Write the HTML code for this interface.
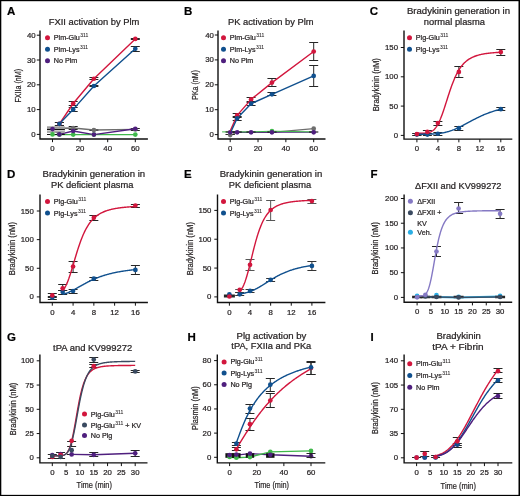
<!DOCTYPE html>
<html><head><meta charset="utf-8"><style>
html,body{margin:0;padding:0;background:#fff;width:520px;height:496px;overflow:hidden}
svg{display:block;will-change:transform;font-family:"Liberation Sans", sans-serif}
text{stroke:#231f20;stroke-width:0.22px;paint-order:stroke}
</style></head><body>
<svg width="520" height="496" viewBox="0 0 520 496">
<rect x="0" y="0" width="520" height="496" fill="#fff"/>
<text x="6.9" y="15.2" font-size="11.5" text-anchor="start" font-weight="bold" fill="#000">A</text>
<text x="94.08" y="25" font-size="8.6" text-anchor="middle" font-weight="normal" fill="#231f20" textLength="90.65" lengthAdjust="spacingAndGlyphs">FXII activation by Plm</text>
<path d="M40 30.6V139H147.9" fill="none" stroke="#111" stroke-width="1.4"/>
<line x1="36.8" y1="134.4" x2="40" y2="134.4" stroke="#111" stroke-width="1"/>
<text x="35.7" y="136.9" font-size="7.8" text-anchor="end" font-weight="normal" fill="#231f20">0</text>
<line x1="36.8" y1="109.6" x2="40" y2="109.6" stroke="#111" stroke-width="1"/>
<text x="35.7" y="112.1" font-size="7.8" text-anchor="end" font-weight="normal" fill="#231f20">10</text>
<line x1="36.8" y1="84.8" x2="40" y2="84.8" stroke="#111" stroke-width="1"/>
<text x="35.7" y="87.3" font-size="7.8" text-anchor="end" font-weight="normal" fill="#231f20">20</text>
<line x1="36.8" y1="60" x2="40" y2="60" stroke="#111" stroke-width="1"/>
<text x="35.7" y="62.5" font-size="7.8" text-anchor="end" font-weight="normal" fill="#231f20">30</text>
<line x1="36.8" y1="35.2" x2="40" y2="35.2" stroke="#111" stroke-width="1"/>
<text x="35.7" y="37.7" font-size="7.8" text-anchor="end" font-weight="normal" fill="#231f20">40</text>
<line x1="52.5" y1="139" x2="52.5" y2="142.2" stroke="#111" stroke-width="1"/>
<text x="52.5" y="151.2" font-size="7.8" text-anchor="middle" font-weight="normal" fill="#231f20">0</text>
<line x1="80.1" y1="139" x2="80.1" y2="142.2" stroke="#111" stroke-width="1"/>
<text x="80.1" y="151.2" font-size="7.8" text-anchor="middle" font-weight="normal" fill="#231f20">20</text>
<line x1="107.7" y1="139" x2="107.7" y2="142.2" stroke="#111" stroke-width="1"/>
<text x="107.7" y="151.2" font-size="7.8" text-anchor="middle" font-weight="normal" fill="#231f20">40</text>
<line x1="135.3" y1="139" x2="135.3" y2="142.2" stroke="#111" stroke-width="1"/>
<text x="135.3" y="151.2" font-size="7.8" text-anchor="middle" font-weight="normal" fill="#231f20">60</text>
<text transform="translate(21.1 85.8) rotate(-90)" x="0" y="0" font-size="9.3" text-anchor="middle" fill="#231f20" textLength="33.6" lengthAdjust="spacingAndGlyphs">FXIIa (nM)</text>
<circle cx="47.5" cy="37.7" r="2.5" fill="#d2163d"/>
<text x="53.8" y="40.1" font-size="7.2" fill="#231f20">Plm-Glu<tspan font-size="5" dx="0.5" dy="-2.9" style="stroke-width:0.08px">311</tspan></text>
<circle cx="47.5" cy="49.2" r="2.5" fill="#10508e"/>
<text x="53.8" y="51.6" font-size="7.2" fill="#231f20">Plm-Lys<tspan font-size="5" dx="0.5" dy="-2.9" style="stroke-width:0.08px">311</tspan></text>
<circle cx="47.5" cy="60.8" r="2.5" fill="#4f1f7e"/>
<text x="53.8" y="63.2" font-size="7.2" fill="#231f20">No Plm</text>
<path d="M68.7 126.5H77.7M68.7 129.5H77.7M73.2 126.5V129.5" fill="none" stroke="#222" stroke-width="1"/>
<path d="M89.4 129.5H98.4M89.4 130.5H98.4M93.9 129.5V130.5" fill="none" stroke="#222" stroke-width="1"/>
<path d="M130.8 128.5H139.8M130.8 130.5H139.8M135.3 128.5V130.5" fill="none" stroke="#222" stroke-width="1"/>
<path d="M52.5 127.4 L59.4 128.2 L73.2 128 L93.9 130 L135.3 129.4" fill="none" stroke="#6e6e6e" stroke-width="1.4" stroke-linejoin="round"/>
<circle cx="73.2" cy="128" r="2.35" fill="#6e6e6e"/>
<circle cx="93.9" cy="130" r="2.35" fill="#6e6e6e"/>
<circle cx="135.3" cy="129.4" r="2.35" fill="#6e6e6e"/>
<path d="M52.5 134.6 L59.4 134.6 L73.2 134.6 L93.9 134.6 L135.3 134.6" fill="none" stroke="#3fb84a" stroke-width="1.4" stroke-linejoin="round"/>
<path d="M52.5 129.1 L59.4 134.4 L73.2 131 L93.9 134.6 L135.3 128.75" fill="none" stroke="#4f1f7e" stroke-width="1.4" stroke-linejoin="round"/>
<rect x="47" y="126.3" width="17.8" height="6.5" fill="#9c9c9c"/>
<rect x="47" y="130" width="17.8" height="1.3" fill="#cfcfcf"/>
<path d="M47 129.5H64.8M47 134.5H64.8" stroke="#111" stroke-width="1.1"/>
<circle cx="59.4" cy="134.6" r="2.35" fill="#3fb84a"/>
<circle cx="73.2" cy="134.6" r="2.35" fill="#3fb84a"/>
<circle cx="93.9" cy="134.6" r="2.35" fill="#3fb84a"/>
<circle cx="135.3" cy="134.6" r="2.35" fill="#3fb84a"/>
<circle cx="52.5" cy="134.4" r="2.35" fill="#3fb84a"/>
<circle cx="52.5" cy="129.1" r="2.35" fill="#4f1f7e"/>
<circle cx="59.4" cy="134.4" r="2.35" fill="#4f1f7e"/>
<circle cx="73.2" cy="131" r="2.35" fill="#4f1f7e"/>
<circle cx="93.9" cy="134.6" r="2.35" fill="#4f1f7e"/>
<circle cx="135.3" cy="128.75" r="2.35" fill="#4f1f7e"/>
<path d="M68.7 101.5H77.7M68.7 105.5H77.7M73.2 101.5V105.5" fill="none" stroke="#262626" stroke-width="1"/>
<path d="M89.4 77.5H98.4M89.4 79.5H98.4M93.9 77.5V79.5" fill="none" stroke="#262626" stroke-width="1"/>
<path d="M130.8 38.5H139.8M130.8 39.5H139.8M135.3 38.5V39.5" fill="none" stroke="#262626" stroke-width="1"/>
<path d="M54.9 122.5H63.9M54.9 125.5H63.9M59.4 122.5V125.5" fill="none" stroke="#262626" stroke-width="1"/>
<path d="M68.7 107.5H77.7M68.7 111.5H77.7M73.2 107.5V111.5" fill="none" stroke="#262626" stroke-width="1"/>
<path d="M89.4 85.5H98.4M89.4 86.5H98.4M93.9 85.5V86.5" fill="none" stroke="#262626" stroke-width="1"/>
<path d="M130.8 46.5H139.8M130.8 51.5H139.8M135.3 46.5V51.5" fill="none" stroke="#262626" stroke-width="1"/>
<path d="M54.9 122.5H63.9M54.9 125.5H63.9M59.4 122.5V125.5" fill="none" stroke="#262626" stroke-width="1"/>
<path d="M59.4 123.8 L73.2 103.5 L93.9 78.75 L135.3 38.9" fill="none" stroke="#d2163d" stroke-width="1.4" stroke-linejoin="round"/>
<path d="M59.4 123.8 L73.2 109.4 L93.9 86 L135.3 48.75" fill="none" stroke="#10508e" stroke-width="1.4" stroke-linejoin="round"/>
<circle cx="59.4" cy="123.8" r="2.35" fill="#d2163d"/>
<circle cx="73.2" cy="103.5" r="2.35" fill="#d2163d"/>
<circle cx="93.9" cy="78.75" r="2.35" fill="#d2163d"/>
<circle cx="135.3" cy="38.9" r="2.35" fill="#d2163d"/>
<circle cx="59.4" cy="123.8" r="2.35" fill="#10508e"/>
<circle cx="73.2" cy="109.4" r="2.35" fill="#10508e"/>
<circle cx="93.9" cy="86" r="2.35" fill="#10508e"/>
<circle cx="135.3" cy="48.75" r="2.35" fill="#10508e"/>
<text x="183.9" y="15.2" font-size="11.5" text-anchor="start" font-weight="bold" fill="#000">B</text>
<text x="270.75" y="25.2" font-size="8.6" text-anchor="middle" font-weight="normal" fill="#231f20" textLength="85.5" lengthAdjust="spacingAndGlyphs">PK activation by Plm</text>
<path d="M218 30.6V139H325.5" fill="none" stroke="#111" stroke-width="1.4"/>
<line x1="214.8" y1="134.6" x2="218" y2="134.6" stroke="#111" stroke-width="1"/>
<text x="213.9" y="137.1" font-size="7.8" text-anchor="end" font-weight="normal" fill="#231f20">0</text>
<line x1="214.8" y1="109.7" x2="218" y2="109.7" stroke="#111" stroke-width="1"/>
<text x="213.9" y="112.2" font-size="7.8" text-anchor="end" font-weight="normal" fill="#231f20">10</text>
<line x1="214.8" y1="84.8" x2="218" y2="84.8" stroke="#111" stroke-width="1"/>
<text x="213.9" y="87.3" font-size="7.8" text-anchor="end" font-weight="normal" fill="#231f20">20</text>
<line x1="214.8" y1="59.9" x2="218" y2="59.9" stroke="#111" stroke-width="1"/>
<text x="213.9" y="62.4" font-size="7.8" text-anchor="end" font-weight="normal" fill="#231f20">30</text>
<line x1="214.8" y1="35" x2="218" y2="35" stroke="#111" stroke-width="1"/>
<text x="213.9" y="37.5" font-size="7.8" text-anchor="end" font-weight="normal" fill="#231f20">40</text>
<line x1="230.2" y1="139" x2="230.2" y2="142.2" stroke="#111" stroke-width="1"/>
<text x="230.2" y="151.2" font-size="7.8" text-anchor="middle" font-weight="normal" fill="#231f20">0</text>
<line x1="258.03" y1="139" x2="258.03" y2="142.2" stroke="#111" stroke-width="1"/>
<text x="258.03" y="151.2" font-size="7.8" text-anchor="middle" font-weight="normal" fill="#231f20">20</text>
<line x1="285.87" y1="139" x2="285.87" y2="142.2" stroke="#111" stroke-width="1"/>
<text x="285.87" y="151.2" font-size="7.8" text-anchor="middle" font-weight="normal" fill="#231f20">40</text>
<line x1="313.7" y1="139" x2="313.7" y2="142.2" stroke="#111" stroke-width="1"/>
<text x="313.7" y="151.2" font-size="7.8" text-anchor="middle" font-weight="normal" fill="#231f20">60</text>
<text transform="translate(197.8 85) rotate(-90)" x="0" y="0" font-size="9.3" text-anchor="middle" fill="#231f20" textLength="29.6" lengthAdjust="spacingAndGlyphs">PKa (nM)</text>
<circle cx="223.5" cy="37.7" r="2.5" fill="#d2163d"/>
<text x="229.8" y="40.1" font-size="7.2" fill="#231f20">Plm-Glu<tspan font-size="5" dx="0.5" dy="-2.9" style="stroke-width:0.08px">311</tspan></text>
<circle cx="223.5" cy="49.2" r="2.5" fill="#10508e"/>
<text x="229.8" y="51.6" font-size="7.2" fill="#231f20">Plm-Lys<tspan font-size="5" dx="0.5" dy="-2.9" style="stroke-width:0.08px">311</tspan></text>
<circle cx="223.5" cy="60.8" r="2.5" fill="#4f1f7e"/>
<text x="229.8" y="63.2" font-size="7.2" fill="#231f20">No Plm</text>
<path d="M230.2 135.3 L237.16 132.3 L251.07 132.3 L271.95 132.3 L313.7 128.7" fill="none" stroke="#6e6e6e" stroke-width="1.2" stroke-linejoin="round"/>
<path d="M225.7 134.5H234.7M225.7 134.5H234.7M230.2 134.5V134.5" fill="none" stroke="#262626" stroke-width="1"/>
<circle cx="230.2" cy="135.1" r="2.35" fill="#6e6e6e"/>
<circle cx="313.7" cy="128.7" r="2.35" fill="#6e6e6e"/>
<path d="M230.2 132.3 L237.16 132.3 L251.07 132.3 L271.95 132.3 L313.7 132.3" fill="none" stroke="#4f1f7e" stroke-width="1.1" stroke-linejoin="round"/>
<path d="M222.1 131.9 L230.2 131.9 L237.16 131.9 L251.07 131.9 L271.95 131.2 L313.7 131.9" fill="none" stroke="#3fb84a" stroke-width="1.0" stroke-linejoin="round"/>
<path d="M225.6 132H234.8" stroke="#111" stroke-width="1.1"/>
<path d="M232.56 132H241.76" stroke="#111" stroke-width="1.1"/>
<path d="M246.47 132H255.67" stroke="#111" stroke-width="1.1"/>
<path d="M267.35 132H276.55" stroke="#111" stroke-width="1.1"/>
<path d="M309.1 132H318.3" stroke="#111" stroke-width="1.1"/>
<circle cx="271.95" cy="131.2" r="2.35" fill="#3fb84a"/>
<circle cx="230.2" cy="132.3" r="2.35" fill="#4f1f7e"/>
<circle cx="237.16" cy="132.3" r="2.35" fill="#4f1f7e"/>
<circle cx="251.07" cy="132.3" r="2.35" fill="#4f1f7e"/>
<circle cx="271.95" cy="132.3" r="2.35" fill="#4f1f7e"/>
<circle cx="313.7" cy="132.3" r="2.35" fill="#4f1f7e"/>
<path d="M232.66 113.5H241.66M232.66 117.5H241.66M237.16 113.5V117.5" fill="none" stroke="#262626" stroke-width="1"/>
<path d="M246.57 97.5H255.57M246.57 101.5H255.57M251.07 97.5V101.5" fill="none" stroke="#262626" stroke-width="1"/>
<path d="M267.45 78.5H276.45M267.45 86.5H276.45M271.95 78.5V86.5" fill="none" stroke="#262626" stroke-width="1"/>
<path d="M309.2 42.5H318.2M309.2 60.5H318.2M313.7 42.5V60.5" fill="none" stroke="#262626" stroke-width="1"/>
<path d="M232.66 116.5H241.66M232.66 120.5H241.66M237.16 116.5V120.5" fill="none" stroke="#262626" stroke-width="1"/>
<path d="M246.57 102.5H255.57M246.57 105.5H255.57M251.07 102.5V105.5" fill="none" stroke="#262626" stroke-width="1"/>
<path d="M267.45 92.5H276.45M267.45 95.5H276.45M271.95 92.5V95.5" fill="none" stroke="#262626" stroke-width="1"/>
<path d="M309.2 65.5H318.2M309.2 86.5H318.2M313.7 65.5V86.5" fill="none" stroke="#262626" stroke-width="1"/>
<path d="M230.2 131 L237.16 115.4 L251.07 99.4 L271.95 82.6 L313.7 51.5" fill="none" stroke="#d2163d" stroke-width="1.4" stroke-linejoin="round"/>
<path d="M231.3 131 L237.16 118.3 L251.07 103.7 L271.95 94.3 L313.7 75.9" fill="none" stroke="#10508e" stroke-width="1.4" stroke-linejoin="round"/>
<circle cx="237.16" cy="115.4" r="2.35" fill="#d2163d"/>
<circle cx="251.07" cy="99.4" r="2.35" fill="#d2163d"/>
<circle cx="271.95" cy="82.6" r="2.35" fill="#d2163d"/>
<circle cx="313.7" cy="51.5" r="2.35" fill="#d2163d"/>
<circle cx="237.16" cy="118.3" r="2.35" fill="#10508e"/>
<circle cx="251.07" cy="103.7" r="2.35" fill="#10508e"/>
<circle cx="271.95" cy="94.3" r="2.35" fill="#10508e"/>
<circle cx="313.7" cy="75.9" r="2.35" fill="#10508e"/>
<text x="369.8" y="15.2" font-size="11.5" text-anchor="start" font-weight="bold" fill="#000">C</text>
<text x="458.45" y="13.75" font-size="8.6" text-anchor="middle" font-weight="normal" fill="#231f20" textLength="103.1" lengthAdjust="spacingAndGlyphs">Bradykinin generation in</text>
<text x="454.38" y="25" font-size="8.6" text-anchor="middle" font-weight="normal" fill="#231f20" textLength="61.25" lengthAdjust="spacingAndGlyphs">normal plasma</text>
<path d="M404 30.6V139.1H512.3" fill="none" stroke="#111" stroke-width="1.4"/>
<line x1="400.8" y1="135.4" x2="404" y2="135.4" stroke="#111" stroke-width="1"/>
<text x="398" y="137.9" font-size="7.8" text-anchor="end" font-weight="normal" fill="#231f20">0</text>
<line x1="400.8" y1="106.1" x2="404" y2="106.1" stroke="#111" stroke-width="1"/>
<text x="398" y="108.6" font-size="7.8" text-anchor="end" font-weight="normal" fill="#231f20">50</text>
<line x1="400.8" y1="76.8" x2="404" y2="76.8" stroke="#111" stroke-width="1"/>
<text x="398" y="79.3" font-size="7.8" text-anchor="end" font-weight="normal" fill="#231f20">100</text>
<line x1="400.8" y1="47.5" x2="404" y2="47.5" stroke="#111" stroke-width="1"/>
<text x="398" y="50" font-size="7.8" text-anchor="end" font-weight="normal" fill="#231f20">150</text>
<line x1="416.9" y1="139.1" x2="416.9" y2="142.3" stroke="#111" stroke-width="1"/>
<text x="416.9" y="151.3" font-size="7.8" text-anchor="middle" font-weight="normal" fill="#231f20">0</text>
<line x1="437.88" y1="139.1" x2="437.88" y2="142.3" stroke="#111" stroke-width="1"/>
<text x="437.88" y="151.3" font-size="7.8" text-anchor="middle" font-weight="normal" fill="#231f20">4</text>
<line x1="458.85" y1="139.1" x2="458.85" y2="142.3" stroke="#111" stroke-width="1"/>
<text x="458.85" y="151.3" font-size="7.8" text-anchor="middle" font-weight="normal" fill="#231f20">8</text>
<line x1="479.82" y1="139.1" x2="479.82" y2="142.3" stroke="#111" stroke-width="1"/>
<text x="479.82" y="151.3" font-size="7.8" text-anchor="middle" font-weight="normal" fill="#231f20">12</text>
<line x1="500.8" y1="139.1" x2="500.8" y2="142.3" stroke="#111" stroke-width="1"/>
<text x="500.8" y="151.3" font-size="7.8" text-anchor="middle" font-weight="normal" fill="#231f20">16</text>
<text transform="translate(378.5 84.65) rotate(-90)" x="0" y="0" font-size="9.3" text-anchor="middle" fill="#231f20" textLength="53.1" lengthAdjust="spacingAndGlyphs">Bradykinin (nM)</text>
<circle cx="409.5" cy="37.7" r="2.5" fill="#d2163d"/>
<text x="415.8" y="40.1" font-size="7.2" fill="#231f20">Plg-Glu<tspan font-size="5" dx="0.5" dy="-2.9" style="stroke-width:0.08px">311</tspan></text>
<circle cx="409.5" cy="49.2" r="2.5" fill="#10508e"/>
<text x="415.8" y="51.6" font-size="7.2" fill="#231f20">Plg-Lys<tspan font-size="5" dx="0.5" dy="-2.9" style="stroke-width:0.08px">311</tspan></text>
<path d="M412.4 133.5H421.4M412.4 135.5H421.4M416.9 133.5V135.5" fill="none" stroke="#262626" stroke-width="1"/>
<path d="M422.89 130.5H431.89M422.89 133.5H431.89M427.39 130.5V133.5" fill="none" stroke="#262626" stroke-width="1"/>
<path d="M433.38 121.5H442.38M433.38 125.5H442.38M437.88 121.5V125.5" fill="none" stroke="#262626" stroke-width="1"/>
<path d="M454.35 66.5H463.35M454.35 77.5H463.35M458.85 66.5V77.5" fill="none" stroke="#262626" stroke-width="1"/>
<path d="M496.3 49.5H505.3M496.3 55.5H505.3M500.8 49.5V55.5" fill="none" stroke="#262626" stroke-width="1"/>
<path d="M412.4 133.5H421.4M412.4 135.5H421.4M416.9 133.5V135.5" fill="none" stroke="#262626" stroke-width="1"/>
<path d="M422.89 133.5H431.89M422.89 135.5H431.89M427.39 133.5V135.5" fill="none" stroke="#262626" stroke-width="1"/>
<path d="M433.38 132.5H442.38M433.38 135.5H442.38M437.88 132.5V135.5" fill="none" stroke="#262626" stroke-width="1"/>
<path d="M454.35 126.5H463.35M454.35 130.5H463.35M458.85 126.5V130.5" fill="none" stroke="#262626" stroke-width="1"/>
<path d="M496.3 107.5H505.3M496.3 110.5H505.3M500.8 107.5V110.5" fill="none" stroke="#262626" stroke-width="1"/>
<path d="M416.9 133.22 L417.6 133.22 L418.3 133.22 L419 133.22 L419.7 133.22 L420.4 133.22 L421.09 133.22 L421.79 133.22 L422.49 133.21 L423.19 133.19 L423.89 133.17 L424.59 133.14 L425.29 133.1 L425.99 133.04 L426.69 132.96 L427.39 132.86 L428.09 132.73 L428.79 132.57 L429.48 132.37 L430.18 132.12 L430.88 131.81 L431.58 131.45 L432.28 131.02 L432.98 130.51 L433.68 129.92 L434.38 129.24 L435.08 128.47 L435.78 127.59 L436.48 126.61 L437.18 125.51 L437.88 124.3 L438.57 122.97 L439.27 121.53 L439.97 119.97 L440.67 118.31 L441.37 116.54 L442.07 114.68 L442.77 112.73 L443.47 110.71 L444.17 108.62 L444.87 106.49 L445.57 104.32 L446.26 102.12 L446.96 99.92 L447.66 97.73 L448.36 95.56 L449.06 93.41 L449.76 91.3 L450.46 89.25 L451.16 87.25 L451.86 85.31 L452.56 83.45 L453.26 81.66 L453.96 79.94 L454.65 78.3 L455.35 76.74 L456.05 75.26 L456.75 73.85 L457.45 72.52 L458.15 71.26 L458.85 70.08 L459.55 68.96 L460.25 67.91 L460.95 66.93 L461.65 66 L462.35 65.13 L463.05 64.32 L463.74 63.56 L464.44 62.84 L465.14 62.17 L465.84 61.54 L466.54 60.96 L467.24 60.41 L467.94 59.89 L468.64 59.41 L469.34 58.96 L470.04 58.53 L470.74 58.14 L471.44 57.77 L472.13 57.42 L472.83 57.09 L473.53 56.78 L474.23 56.5 L474.93 56.23 L475.63 55.97 L476.33 55.74 L477.03 55.51 L477.73 55.3 L478.43 55.1 L479.13 54.92 L479.82 54.74 L480.52 54.58 L481.22 54.42 L481.92 54.28 L482.62 54.14 L483.32 54.01 L484.02 53.89 L484.72 53.77 L485.42 53.66 L486.12 53.56 L486.82 53.46 L487.52 53.37 L488.22 53.28 L488.91 53.19 L489.61 53.12 L490.31 53.04 L491.01 52.97 L491.71 52.9 L492.41 52.84 L493.11 52.78 L493.81 52.72 L494.51 52.67 L495.21 52.62 L495.91 52.57 L496.61 52.52 L497.3 52.47 L498 52.43 L498.7 52.39 L499.4 52.35 L500.1 52.32 L500.8 52.28" fill="none" stroke="#d2163d" stroke-width="1.4" stroke-linejoin="round"/>
<path d="M416.9 134.22 L417.6 134.22 L418.3 134.22 L419 134.22 L419.7 134.22 L420.4 134.22 L421.09 134.22 L421.79 134.22 L422.49 134.22 L423.19 134.22 L423.89 134.21 L424.59 134.21 L425.29 134.2 L425.99 134.2 L426.69 134.19 L427.39 134.18 L428.09 134.16 L428.79 134.15 L429.48 134.13 L430.18 134.11 L430.88 134.08 L431.58 134.06 L432.28 134.03 L432.98 133.99 L433.68 133.95 L434.38 133.9 L435.08 133.86 L435.78 133.8 L436.48 133.74 L437.18 133.67 L437.88 133.6 L438.57 133.52 L439.27 133.43 L439.97 133.34 L440.67 133.24 L441.37 133.13 L442.07 133.01 L442.77 132.88 L443.47 132.75 L444.17 132.6 L444.87 132.45 L445.57 132.29 L446.26 132.12 L446.96 131.94 L447.66 131.75 L448.36 131.55 L449.06 131.34 L449.76 131.12 L450.46 130.89 L451.16 130.65 L451.86 130.41 L452.56 130.15 L453.26 129.88 L453.96 129.61 L454.65 129.32 L455.35 129.03 L456.05 128.73 L456.75 128.42 L457.45 128.1 L458.15 127.78 L458.85 127.45 L459.55 127.11 L460.25 126.77 L460.95 126.42 L461.65 126.07 L462.35 125.71 L463.05 125.35 L463.74 124.98 L464.44 124.61 L465.14 124.24 L465.84 123.86 L466.54 123.49 L467.24 123.11 L467.94 122.73 L468.64 122.35 L469.34 121.98 L470.04 121.6 L470.74 121.22 L471.44 120.85 L472.13 120.47 L472.83 120.1 L473.53 119.73 L474.23 119.37 L474.93 119.01 L475.63 118.65 L476.33 118.3 L477.03 117.95 L477.73 117.6 L478.43 117.26 L479.13 116.92 L479.82 116.59 L480.52 116.26 L481.22 115.94 L481.92 115.63 L482.62 115.32 L483.32 115.01 L484.02 114.71 L484.72 114.42 L485.42 114.13 L486.12 113.85 L486.82 113.57 L487.52 113.3 L488.22 113.04 L488.91 112.78 L489.61 112.53 L490.31 112.28 L491.01 112.04 L491.71 111.8 L492.41 111.57 L493.11 111.34 L493.81 111.12 L494.51 110.91 L495.21 110.7 L495.91 110.49 L496.61 110.3 L497.3 110.1 L498 109.91 L498.7 109.73 L499.4 109.55 L500.1 109.37 L500.8 109.2" fill="none" stroke="#10508e" stroke-width="1.4" stroke-linejoin="round"/>
<circle cx="416.9" cy="134.6" r="2.35" fill="#10508e"/>
<circle cx="427.39" cy="134.6" r="2.35" fill="#10508e"/>
<circle cx="437.88" cy="133.75" r="2.35" fill="#10508e"/>
<circle cx="458.85" cy="128.2" r="2.35" fill="#10508e"/>
<circle cx="500.8" cy="109.2" r="2.35" fill="#10508e"/>
<circle cx="416.9" cy="134.1" r="2.35" fill="#d2163d"/>
<circle cx="427.39" cy="131.9" r="2.35" fill="#d2163d"/>
<circle cx="437.88" cy="123.1" r="2.35" fill="#d2163d"/>
<circle cx="458.85" cy="71.9" r="2.35" fill="#d2163d"/>
<circle cx="500.8" cy="52.1" r="2.35" fill="#d2163d"/>
<text x="6.9" y="178.4" font-size="11.5" text-anchor="start" font-weight="bold" fill="#000">D</text>
<text x="93.8" y="176.6" font-size="8.6" text-anchor="middle" font-weight="normal" fill="#231f20" textLength="102.6" lengthAdjust="spacingAndGlyphs">Bradykinin generation in</text>
<text x="92.25" y="187.8" font-size="8.6" text-anchor="middle" font-weight="normal" fill="#231f20" textLength="82.5" lengthAdjust="spacingAndGlyphs">PK deficient plasma</text>
<path d="M40 194.4V302.5H147.9" fill="none" stroke="#111" stroke-width="1.4"/>
<line x1="36.8" y1="296.9" x2="40" y2="296.9" stroke="#111" stroke-width="1"/>
<text x="33.8" y="299.4" font-size="7.8" text-anchor="end" font-weight="normal" fill="#231f20">0</text>
<line x1="36.8" y1="268.27" x2="40" y2="268.27" stroke="#111" stroke-width="1"/>
<text x="33.8" y="270.77" font-size="7.8" text-anchor="end" font-weight="normal" fill="#231f20">50</text>
<line x1="36.8" y1="239.63" x2="40" y2="239.63" stroke="#111" stroke-width="1"/>
<text x="33.8" y="242.13" font-size="7.8" text-anchor="end" font-weight="normal" fill="#231f20">100</text>
<line x1="36.8" y1="211" x2="40" y2="211" stroke="#111" stroke-width="1"/>
<text x="33.8" y="213.5" font-size="7.8" text-anchor="end" font-weight="normal" fill="#231f20">150</text>
<line x1="52.3" y1="302.5" x2="52.3" y2="305.7" stroke="#111" stroke-width="1"/>
<text x="52.3" y="314.7" font-size="7.8" text-anchor="middle" font-weight="normal" fill="#231f20">0</text>
<line x1="73.08" y1="302.5" x2="73.08" y2="305.7" stroke="#111" stroke-width="1"/>
<text x="73.08" y="314.7" font-size="7.8" text-anchor="middle" font-weight="normal" fill="#231f20">4</text>
<line x1="93.85" y1="302.5" x2="93.85" y2="305.7" stroke="#111" stroke-width="1"/>
<text x="93.85" y="314.7" font-size="7.8" text-anchor="middle" font-weight="normal" fill="#231f20">8</text>
<line x1="114.62" y1="302.5" x2="114.62" y2="305.7" stroke="#111" stroke-width="1"/>
<text x="114.62" y="314.7" font-size="7.8" text-anchor="middle" font-weight="normal" fill="#231f20">12</text>
<line x1="135.4" y1="302.5" x2="135.4" y2="305.7" stroke="#111" stroke-width="1"/>
<text x="135.4" y="314.7" font-size="7.8" text-anchor="middle" font-weight="normal" fill="#231f20">16</text>
<text transform="translate(15.45 248.6) rotate(-90)" x="0" y="0" font-size="9.3" text-anchor="middle" fill="#231f20" textLength="53.1" lengthAdjust="spacingAndGlyphs">Bradykinin (nM)</text>
<circle cx="47.5" cy="201.6" r="2.5" fill="#d2163d"/>
<text x="53.8" y="204" font-size="7.2" fill="#231f20">Plg-Glu<tspan font-size="5" dx="0.5" dy="-2.9" style="stroke-width:0.08px">311</tspan></text>
<circle cx="47.5" cy="213.1" r="2.5" fill="#10508e"/>
<text x="53.8" y="215.5" font-size="7.2" fill="#231f20">Plg-Lys<tspan font-size="5" dx="0.5" dy="-2.9" style="stroke-width:0.08px">311</tspan></text>
<path d="M47.8 293.5H56.8M47.8 297.5H56.8M52.3 293.5V297.5" fill="none" stroke="#262626" stroke-width="1"/>
<path d="M58.19 284.5H67.19M58.19 290.5H67.19M62.69 284.5V290.5" fill="none" stroke="#262626" stroke-width="1"/>
<path d="M68.58 261.5H77.58M68.58 272.5H77.58M73.08 261.5V272.5" fill="none" stroke="#262626" stroke-width="1"/>
<path d="M89.35 215.5H98.35M89.35 220.5H98.35M93.85 215.5V220.5" fill="none" stroke="#262626" stroke-width="1"/>
<path d="M130.9 204.5H139.9M130.9 207.5H139.9M135.4 204.5V207.5" fill="none" stroke="#262626" stroke-width="1"/>
<path d="M47.8 296.5H56.8M47.8 299.5H56.8M52.3 296.5V299.5" fill="none" stroke="#262626" stroke-width="1"/>
<path d="M58.19 290.5H67.19M58.19 294.5H67.19M62.69 290.5V294.5" fill="none" stroke="#262626" stroke-width="1"/>
<path d="M68.58 289.5H77.58M68.58 293.5H77.58M73.08 289.5V293.5" fill="none" stroke="#262626" stroke-width="1"/>
<path d="M89.35 277.5H98.35M89.35 280.5H98.35M93.85 277.5V280.5" fill="none" stroke="#262626" stroke-width="1"/>
<path d="M130.9 265.5H139.9M130.9 274.5H139.9M135.4 265.5V274.5" fill="none" stroke="#262626" stroke-width="1"/>
<path d="M62.69 290.65 L63.29 289.91 L63.9 289.08 L64.51 288.15 L65.11 287.12 L65.72 285.98 L66.32 284.74 L66.93 283.39 L67.53 281.95 L68.14 280.4 L68.75 278.77 L69.35 277.05 L69.96 275.26 L70.56 273.4 L71.17 271.48 L71.78 269.51 L72.38 267.51 L72.99 265.47 L73.59 263.43 L74.2 261.37 L74.81 259.32 L75.41 257.27 L76.02 255.25 L76.62 253.26 L77.23 251.3 L77.84 249.38 L78.44 247.51 L79.05 245.69 L79.65 243.92 L80.26 242.21 L80.87 240.56 L81.47 238.96 L82.08 237.43 L82.68 235.96 L83.29 234.55 L83.9 233.2 L84.5 231.91 L85.11 230.67 L85.71 229.49 L86.32 228.37 L86.93 227.3 L87.53 226.28 L88.14 225.32 L88.74 224.39 L89.35 223.52 L89.95 222.69 L90.56 221.9 L91.17 221.15 L91.77 220.43 L92.38 219.76 L92.98 219.11 L93.59 218.5 L94.2 217.92 L94.8 217.37 L95.41 216.85 L96.01 216.35 L96.62 215.88 L97.23 215.43 L97.83 215.01 L98.44 214.6 L99.04 214.22 L99.65 213.85 L100.26 213.5 L100.86 213.17 L101.47 212.86 L102.07 212.56 L102.68 212.27 L103.29 212 L103.89 211.74 L104.5 211.49 L105.1 211.25 L105.71 211.03 L106.31 210.81 L106.92 210.61 L107.53 210.41 L108.13 210.23 L108.74 210.05 L109.34 209.88 L109.95 209.71 L110.56 209.56 L111.16 209.41 L111.77 209.27 L112.37 209.13 L112.98 209 L113.59 208.87 L114.19 208.75 L114.8 208.64 L115.4 208.53 L116.01 208.42 L116.62 208.32 L117.22 208.22 L117.83 208.13 L118.43 208.04 L119.04 207.95 L119.65 207.87 L120.25 207.79 L120.86 207.71 L121.46 207.64 L122.07 207.56 L122.68 207.5 L123.28 207.43 L123.89 207.37 L124.49 207.31 L125.1 207.25 L125.7 207.19 L126.31 207.14 L126.92 207.08 L127.52 207.03 L128.13 206.98 L128.73 206.94 L129.34 206.89 L129.95 206.85 L130.55 206.8 L131.16 206.76 L131.76 206.72 L132.37 206.68 L132.98 206.65 L133.58 206.61 L134.19 206.58 L134.79 206.54 L135.4 206.51" fill="none" stroke="#d2163d" stroke-width="1.4" stroke-linejoin="round"/>
<path d="M62.69 294.42 L63.29 294.26 L63.9 294.08 L64.51 293.89 L65.11 293.69 L65.72 293.48 L66.32 293.26 L66.93 293.03 L67.53 292.78 L68.14 292.53 L68.75 292.27 L69.35 292 L69.96 291.72 L70.56 291.43 L71.17 291.14 L71.78 290.84 L72.38 290.53 L72.99 290.22 L73.59 289.9 L74.2 289.58 L74.81 289.25 L75.41 288.92 L76.02 288.58 L76.62 288.25 L77.23 287.91 L77.84 287.57 L78.44 287.23 L79.05 286.88 L79.65 286.54 L80.26 286.2 L80.87 285.86 L81.47 285.52 L82.08 285.18 L82.68 284.84 L83.29 284.51 L83.9 284.17 L84.5 283.84 L85.11 283.52 L85.71 283.19 L86.32 282.87 L86.93 282.55 L87.53 282.24 L88.14 281.93 L88.74 281.62 L89.35 281.32 L89.95 281.03 L90.56 280.73 L91.17 280.45 L91.77 280.16 L92.38 279.88 L92.98 279.61 L93.59 279.34 L94.2 279.08 L94.8 278.82 L95.41 278.56 L96.01 278.31 L96.62 278.06 L97.23 277.82 L97.83 277.59 L98.44 277.36 L99.04 277.13 L99.65 276.91 L100.26 276.69 L100.86 276.47 L101.47 276.27 L102.07 276.06 L102.68 275.86 L103.29 275.66 L103.89 275.47 L104.5 275.28 L105.1 275.1 L105.71 274.92 L106.31 274.74 L106.92 274.57 L107.53 274.4 L108.13 274.24 L108.74 274.08 L109.34 273.92 L109.95 273.77 L110.56 273.62 L111.16 273.47 L111.77 273.32 L112.37 273.18 L112.98 273.05 L113.59 272.91 L114.19 272.78 L114.8 272.65 L115.4 272.52 L116.01 272.4 L116.62 272.28 L117.22 272.16 L117.83 272.05 L118.43 271.93 L119.04 271.82 L119.65 271.72 L120.25 271.61 L120.86 271.51 L121.46 271.41 L122.07 271.31 L122.68 271.21 L123.28 271.12 L123.89 271.02 L124.49 270.93 L125.1 270.84 L125.7 270.76 L126.31 270.67 L126.92 270.59 L127.52 270.51 L128.13 270.43 L128.73 270.35 L129.34 270.27 L129.95 270.2 L130.55 270.13 L131.16 270.05 L131.76 269.98 L132.37 269.92 L132.98 269.85 L133.58 269.78 L134.19 269.72 L134.79 269.66 L135.4 269.59" fill="none" stroke="#10508e" stroke-width="1.4" stroke-linejoin="round"/>
<circle cx="52.3" cy="297.6" r="2.35" fill="#10508e"/>
<circle cx="62.69" cy="292" r="2.35" fill="#10508e"/>
<circle cx="73.08" cy="291" r="2.35" fill="#10508e"/>
<circle cx="93.85" cy="278.7" r="2.35" fill="#10508e"/>
<circle cx="135.4" cy="269.9" r="2.35" fill="#10508e"/>
<circle cx="52.3" cy="295.4" r="2.35" fill="#d2163d"/>
<circle cx="62.69" cy="288.3" r="2.35" fill="#d2163d"/>
<circle cx="73.08" cy="266.5" r="2.35" fill="#d2163d"/>
<circle cx="93.85" cy="217.7" r="2.35" fill="#d2163d"/>
<circle cx="135.4" cy="205.5" r="2.35" fill="#d2163d"/>
<text x="184.1" y="178.4" font-size="11.5" text-anchor="start" font-weight="bold" fill="#000">E</text>
<text x="270.95" y="176.6" font-size="8.6" text-anchor="middle" font-weight="normal" fill="#231f20" textLength="102.6" lengthAdjust="spacingAndGlyphs">Bradykinin generation in</text>
<text x="270" y="187.8" font-size="8.6" text-anchor="middle" font-weight="normal" fill="#231f20" textLength="82.5" lengthAdjust="spacingAndGlyphs">PK deficient plasma</text>
<path d="M217.5 194.4V302.5H325.4" fill="none" stroke="#111" stroke-width="1.4"/>
<line x1="214.3" y1="296.9" x2="217.5" y2="296.9" stroke="#111" stroke-width="1"/>
<text x="211.4" y="299.4" font-size="7.8" text-anchor="end" font-weight="normal" fill="#231f20">0</text>
<line x1="214.3" y1="268.07" x2="217.5" y2="268.07" stroke="#111" stroke-width="1"/>
<text x="211.4" y="270.57" font-size="7.8" text-anchor="end" font-weight="normal" fill="#231f20">50</text>
<line x1="214.3" y1="239.23" x2="217.5" y2="239.23" stroke="#111" stroke-width="1"/>
<text x="211.4" y="241.73" font-size="7.8" text-anchor="end" font-weight="normal" fill="#231f20">100</text>
<line x1="214.3" y1="210.4" x2="217.5" y2="210.4" stroke="#111" stroke-width="1"/>
<text x="211.4" y="212.9" font-size="7.8" text-anchor="end" font-weight="normal" fill="#231f20">150</text>
<line x1="229.4" y1="302.5" x2="229.4" y2="305.7" stroke="#111" stroke-width="1"/>
<text x="229.4" y="314.7" font-size="7.8" text-anchor="middle" font-weight="normal" fill="#231f20">0</text>
<line x1="250.03" y1="302.5" x2="250.03" y2="305.7" stroke="#111" stroke-width="1"/>
<text x="250.03" y="314.7" font-size="7.8" text-anchor="middle" font-weight="normal" fill="#231f20">4</text>
<line x1="270.65" y1="302.5" x2="270.65" y2="305.7" stroke="#111" stroke-width="1"/>
<text x="270.65" y="314.7" font-size="7.8" text-anchor="middle" font-weight="normal" fill="#231f20">8</text>
<line x1="291.27" y1="302.5" x2="291.27" y2="305.7" stroke="#111" stroke-width="1"/>
<text x="291.27" y="314.7" font-size="7.8" text-anchor="middle" font-weight="normal" fill="#231f20">12</text>
<line x1="311.9" y1="302.5" x2="311.9" y2="305.7" stroke="#111" stroke-width="1"/>
<text x="311.9" y="314.7" font-size="7.8" text-anchor="middle" font-weight="normal" fill="#231f20">16</text>
<text transform="translate(192.6 248.6) rotate(-90)" x="0" y="0" font-size="9.3" text-anchor="middle" fill="#231f20" textLength="53.1" lengthAdjust="spacingAndGlyphs">Bradykinin (nM)</text>
<circle cx="223.5" cy="201.6" r="2.5" fill="#d2163d"/>
<text x="229.8" y="204" font-size="7.2" fill="#231f20">Plg-Glu<tspan font-size="5" dx="0.5" dy="-2.9" style="stroke-width:0.08px">311</tspan></text>
<circle cx="223.5" cy="213.1" r="2.5" fill="#10508e"/>
<text x="229.8" y="215.5" font-size="7.2" fill="#231f20">Plg-Lys<tspan font-size="5" dx="0.5" dy="-2.9" style="stroke-width:0.08px">311</tspan></text>
<path d="M223.9 295.5H234.9M223.9 296.5H234.9M229.4 295.5V296.5" fill="none" stroke="#262626" stroke-width="2"/>
<path d="M235.21 289.5H244.21M235.21 292.5H244.21M239.71 289.5V292.5" fill="none" stroke="#555" stroke-width="1"/>
<path d="M245.53 259.5H254.53M245.53 270.5H254.53M250.03 259.5V270.5" fill="none" stroke="#555" stroke-width="1"/>
<path d="M266.15 200.5H275.15M266.15 220.5H275.15M270.65 200.5V220.5" fill="none" stroke="#555" stroke-width="1"/>
<path d="M307.4 199.5H316.4M307.4 203.5H316.4M311.9 199.5V203.5" fill="none" stroke="#555" stroke-width="1"/>
<path d="M235.21 292.5H244.21M235.21 295.5H244.21M239.71 292.5V295.5" fill="none" stroke="#333" stroke-width="1"/>
<path d="M245.53 289.5H254.53M245.53 292.5H254.53M250.03 289.5V292.5" fill="none" stroke="#333" stroke-width="1"/>
<path d="M266.15 278.5H275.15M266.15 281.5H275.15M270.65 278.5V281.5" fill="none" stroke="#333" stroke-width="1"/>
<path d="M307.4 261.5H316.4M307.4 270.5H316.4M311.9 261.5V270.5" fill="none" stroke="#333" stroke-width="1"/>
<path d="M239.71 291.37 L240.31 290.74 L240.92 290.01 L241.52 289.16 L242.12 288.19 L242.72 287.09 L243.32 285.87 L243.92 284.51 L244.53 283.02 L245.13 281.39 L245.73 279.64 L246.33 277.76 L246.93 275.77 L247.53 273.67 L248.13 271.47 L248.74 269.19 L249.34 266.85 L249.94 264.45 L250.54 262.01 L251.14 259.55 L251.74 257.09 L252.35 254.63 L252.95 252.19 L253.55 249.78 L254.15 247.42 L254.75 245.11 L255.35 242.86 L255.95 240.68 L256.56 238.58 L257.16 236.55 L257.76 234.61 L258.36 232.74 L258.96 230.96 L259.56 229.27 L260.17 227.66 L260.77 226.13 L261.37 224.67 L261.97 223.3 L262.57 222 L263.17 220.77 L263.77 219.62 L264.38 218.52 L264.98 217.5 L265.58 216.53 L266.18 215.61 L266.78 214.75 L267.38 213.95 L267.99 213.19 L268.59 212.47 L269.19 211.8 L269.79 211.16 L270.39 210.57 L270.99 210.01 L271.6 209.48 L272.2 208.98 L272.8 208.51 L273.4 208.07 L274 207.66 L274.6 207.26 L275.2 206.89 L275.81 206.55 L276.41 206.22 L277.01 205.91 L277.61 205.62 L278.21 205.34 L278.81 205.08 L279.42 204.83 L280.02 204.6 L280.62 204.38 L281.22 204.17 L281.82 203.97 L282.42 203.78 L283.02 203.6 L283.63 203.43 L284.23 203.27 L284.83 203.12 L285.43 202.98 L286.03 202.84 L286.63 202.71 L287.24 202.59 L287.84 202.47 L288.44 202.36 L289.04 202.25 L289.64 202.15 L290.24 202.05 L290.85 201.96 L291.45 201.87 L292.05 201.79 L292.65 201.71 L293.25 201.63 L293.85 201.56 L294.45 201.49 L295.06 201.42 L295.66 201.36 L296.26 201.3 L296.86 201.24 L297.46 201.19 L298.06 201.13 L298.67 201.08 L299.27 201.03 L299.87 200.99 L300.47 200.94 L301.07 200.9 L301.67 200.86 L302.27 200.82 L302.88 200.78 L303.48 200.74 L304.08 200.71 L304.68 200.67 L305.28 200.64 L305.88 200.61 L306.49 200.58 L307.09 200.55 L307.69 200.53 L308.29 200.5 L308.89 200.47 L309.49 200.45 L310.1 200.42 L310.7 200.4 L311.3 200.38 L311.9 200.36" fill="none" stroke="#d2163d" stroke-width="1.4" stroke-linejoin="round"/>
<path d="M239.71 293.76 L240.31 293.7 L240.92 293.64 L241.52 293.57 L242.12 293.48 L242.72 293.39 L243.32 293.3 L243.92 293.19 L244.53 293.07 L245.13 292.95 L245.73 292.81 L246.33 292.66 L246.93 292.51 L247.53 292.34 L248.13 292.16 L248.74 291.98 L249.34 291.78 L249.94 291.57 L250.54 291.35 L251.14 291.12 L251.74 290.88 L252.35 290.63 L252.95 290.37 L253.55 290.1 L254.15 289.82 L254.75 289.53 L255.35 289.23 L255.95 288.93 L256.56 288.61 L257.16 288.29 L257.76 287.96 L258.36 287.62 L258.96 287.28 L259.56 286.93 L260.17 286.57 L260.77 286.21 L261.37 285.85 L261.97 285.48 L262.57 285.1 L263.17 284.73 L263.77 284.35 L264.38 283.97 L264.98 283.59 L265.58 283.21 L266.18 282.82 L266.78 282.44 L267.38 282.06 L267.99 281.68 L268.59 281.3 L269.19 280.92 L269.79 280.54 L270.39 280.17 L270.99 279.8 L271.6 279.43 L272.2 279.06 L272.8 278.7 L273.4 278.35 L274 277.99 L274.6 277.65 L275.2 277.3 L275.81 276.96 L276.41 276.63 L277.01 276.3 L277.61 275.98 L278.21 275.66 L278.81 275.35 L279.42 275.04 L280.02 274.74 L280.62 274.44 L281.22 274.15 L281.82 273.87 L282.42 273.59 L283.02 273.31 L283.63 273.04 L284.23 272.78 L284.83 272.52 L285.43 272.27 L286.03 272.03 L286.63 271.78 L287.24 271.55 L287.84 271.32 L288.44 271.09 L289.04 270.87 L289.64 270.66 L290.24 270.45 L290.85 270.24 L291.45 270.04 L292.05 269.85 L292.65 269.66 L293.25 269.47 L293.85 269.29 L294.45 269.11 L295.06 268.94 L295.66 268.77 L296.26 268.61 L296.86 268.45 L297.46 268.29 L298.06 268.14 L298.67 267.99 L299.27 267.84 L299.87 267.7 L300.47 267.56 L301.07 267.43 L301.67 267.29 L302.27 267.17 L302.88 267.04 L303.48 266.92 L304.08 266.8 L304.68 266.68 L305.28 266.57 L305.88 266.46 L306.49 266.35 L307.09 266.25 L307.69 266.14 L308.29 266.04 L308.89 265.95 L309.49 265.85 L310.1 265.76 L310.7 265.67 L311.3 265.58 L311.9 265.49" fill="none" stroke="#10508e" stroke-width="1.4" stroke-linejoin="round"/>
<circle cx="229.4" cy="294.3" r="2.35" fill="#10508e"/>
<circle cx="239.71" cy="294.3" r="2.35" fill="#10508e"/>
<circle cx="250.03" cy="290.9" r="2.35" fill="#10508e"/>
<circle cx="270.65" cy="279.8" r="2.35" fill="#10508e"/>
<circle cx="311.9" cy="265.9" r="2.35" fill="#10508e"/>
<circle cx="229.4" cy="296.5" r="2.35" fill="#d2163d"/>
<circle cx="239.71" cy="289.8" r="2.35" fill="#d2163d"/>
<circle cx="250.03" cy="264.8" r="2.35" fill="#d2163d"/>
<circle cx="270.65" cy="210" r="2.35" fill="#d2163d"/>
<circle cx="311.9" cy="201.1" r="2.35" fill="#d2163d"/>
<text x="370.6" y="178.4" font-size="11.5" text-anchor="start" font-weight="bold" fill="#000">F</text>
<text x="458.25" y="188.5" font-size="8.6" text-anchor="middle" font-weight="normal" fill="#231f20" textLength="86.5" lengthAdjust="spacingAndGlyphs">ΔFXII and KV999272</text>
<path d="M404.1 194.4V302.2H512.2" fill="none" stroke="#111" stroke-width="1.4"/>
<line x1="400.9" y1="297.4" x2="404.1" y2="297.4" stroke="#111" stroke-width="1"/>
<text x="398.1" y="299.9" font-size="7.8" text-anchor="end" font-weight="normal" fill="#231f20">0</text>
<line x1="400.9" y1="272.67" x2="404.1" y2="272.67" stroke="#111" stroke-width="1"/>
<text x="398.1" y="275.17" font-size="7.8" text-anchor="end" font-weight="normal" fill="#231f20">50</text>
<line x1="400.9" y1="247.95" x2="404.1" y2="247.95" stroke="#111" stroke-width="1"/>
<text x="398.1" y="250.45" font-size="7.8" text-anchor="end" font-weight="normal" fill="#231f20">100</text>
<line x1="400.9" y1="223.22" x2="404.1" y2="223.22" stroke="#111" stroke-width="1"/>
<text x="398.1" y="225.72" font-size="7.8" text-anchor="end" font-weight="normal" fill="#231f20">150</text>
<line x1="400.9" y1="198.5" x2="404.1" y2="198.5" stroke="#111" stroke-width="1"/>
<text x="398.1" y="201" font-size="7.8" text-anchor="end" font-weight="normal" fill="#231f20">200</text>
<line x1="417.1" y1="302.2" x2="417.1" y2="305.4" stroke="#111" stroke-width="1"/>
<text x="417.1" y="314.4" font-size="7.8" text-anchor="middle" font-weight="normal" fill="#231f20">0</text>
<line x1="430.93" y1="302.2" x2="430.93" y2="305.4" stroke="#111" stroke-width="1"/>
<text x="430.93" y="314.4" font-size="7.8" text-anchor="middle" font-weight="normal" fill="#231f20">5</text>
<line x1="444.77" y1="302.2" x2="444.77" y2="305.4" stroke="#111" stroke-width="1"/>
<text x="444.77" y="314.4" font-size="7.8" text-anchor="middle" font-weight="normal" fill="#231f20">10</text>
<line x1="458.6" y1="302.2" x2="458.6" y2="305.4" stroke="#111" stroke-width="1"/>
<text x="458.6" y="314.4" font-size="7.8" text-anchor="middle" font-weight="normal" fill="#231f20">15</text>
<line x1="472.43" y1="302.2" x2="472.43" y2="305.4" stroke="#111" stroke-width="1"/>
<text x="472.43" y="314.4" font-size="7.8" text-anchor="middle" font-weight="normal" fill="#231f20">20</text>
<line x1="486.27" y1="302.2" x2="486.27" y2="305.4" stroke="#111" stroke-width="1"/>
<text x="486.27" y="314.4" font-size="7.8" text-anchor="middle" font-weight="normal" fill="#231f20">25</text>
<line x1="500.1" y1="302.2" x2="500.1" y2="305.4" stroke="#111" stroke-width="1"/>
<text x="500.1" y="314.4" font-size="7.8" text-anchor="middle" font-weight="normal" fill="#231f20">30</text>
<text transform="translate(378.25 248.3) rotate(-90)" x="0" y="0" font-size="9.3" text-anchor="middle" fill="#231f20" textLength="52.5" lengthAdjust="spacingAndGlyphs">Bradykinin (nM)</text>
<circle cx="410.4" cy="201.2" r="2.5" fill="#8579c4"/>
<text x="417.3" y="203.6" font-size="7.2" fill="#231f20">ΔFXII</text>
<circle cx="410.4" cy="212.7" r="2.5" fill="#3a4a60"/>
<text x="417.3" y="215.1" font-size="7.2" fill="#231f20">ΔFXII +</text>
<circle cx="410.4" cy="232.3" r="2.5" fill="#2aaee4"/>
<text x="417.3" y="234.7" font-size="7.2" fill="#231f20">Veh.</text>
<text x="417.3" y="226" font-size="7.2" text-anchor="start" font-weight="normal" fill="#231f20">KV</text>
<path d="M417.1 297 L436.47 297 L458.6 297.5 L500.1 296.5" fill="none" stroke="#2aaee4" stroke-width="2.2" stroke-linejoin="round"/>
<circle cx="417.1" cy="295.9" r="2.35" fill="#2aaee4"/>
<circle cx="436.47" cy="295.2" r="2.35" fill="#2aaee4"/>
<circle cx="500.1" cy="295.9" r="2.35" fill="#2aaee4"/>
<circle cx="458.6" cy="296.8" r="2.35" fill="#2aaee4"/>
<path d="M412.1 296.5H422.1M412.1 297.5H422.1M417.1 296.5V297.5" fill="none" stroke="#262626" stroke-width="1.6"/>
<path d="M420.4 296.5H430.4M420.4 297.5H430.4M425.4 296.5V297.5" fill="none" stroke="#262626" stroke-width="1.6"/>
<path d="M431.47 296.5H441.47M431.47 297.5H441.47M436.47 296.5V297.5" fill="none" stroke="#262626" stroke-width="1.6"/>
<path d="M453.6 296.5H463.6M453.6 297.5H463.6M458.6 296.5V297.5" fill="none" stroke="#262626" stroke-width="1.6"/>
<path d="M495.1 296.5H505.1M495.1 297.5H505.1M500.1 296.5V297.5" fill="none" stroke="#262626" stroke-width="1.6"/>
<path d="M425.4 296.5 L436.47 297 L458.6 297.4 L500.1 297" fill="none" stroke="#3a4a60" stroke-width="1.4" stroke-linejoin="round"/>
<circle cx="425.4" cy="296.5" r="2.35" fill="#3a4a60"/>
<circle cx="436.47" cy="297" r="2.35" fill="#3a4a60"/>
<circle cx="458.6" cy="297.4" r="2.35" fill="#3a4a60"/>
<circle cx="500.1" cy="297" r="2.35" fill="#3a4a60"/>
<path d="M431.97 246.5H440.97M431.97 256.5H440.97M436.47 246.5V256.5" fill="none" stroke="#262626" stroke-width="1"/>
<path d="M454.1 202.5H463.1M454.1 213.5H463.1M458.6 202.5V213.5" fill="none" stroke="#262626" stroke-width="1"/>
<path d="M495.6 209.5H504.6M495.6 218.5H504.6M500.1 209.5V218.5" fill="none" stroke="#262626" stroke-width="1"/>
<path d="M417.1 296.01 L417.62 296.01 L418.14 296.01 L418.66 296.01 L419.18 296.01 L419.69 296.01 L420.21 296 L420.73 295.98 L421.25 295.95 L421.77 295.9 L422.29 295.83 L422.81 295.73 L423.33 295.58 L423.84 295.38 L424.36 295.11 L424.88 294.76 L425.4 294.31 L425.92 293.75 L426.44 293.06 L426.96 292.22 L427.48 291.22 L427.99 290.04 L428.51 288.67 L429.03 287.11 L429.55 285.34 L430.07 283.37 L430.59 281.21 L431.11 278.86 L431.62 276.34 L432.14 273.68 L432.66 270.89 L433.18 268.01 L433.7 265.07 L434.22 262.1 L434.74 259.14 L435.26 256.2 L435.78 253.31 L436.29 250.51 L436.81 247.8 L437.33 245.21 L437.85 242.74 L438.37 240.4 L438.89 238.2 L439.41 236.14 L439.93 234.21 L440.44 232.41 L440.96 230.74 L441.48 229.2 L442 227.77 L442.52 226.45 L443.04 225.24 L443.56 224.12 L444.08 223.1 L444.59 222.15 L445.11 221.29 L445.63 220.49 L446.15 219.76 L446.67 219.09 L447.19 218.47 L447.71 217.91 L448.23 217.39 L448.74 216.91 L449.26 216.47 L449.78 216.06 L450.3 215.69 L450.82 215.35 L451.34 215.03 L451.86 214.74 L452.38 214.47 L452.89 214.22 L453.41 213.99 L453.93 213.77 L454.45 213.57 L454.97 213.39 L455.49 213.22 L456.01 213.06 L456.53 212.92 L457.04 212.78 L457.56 212.65 L458.08 212.53 L458.6 212.42 L459.12 212.32 L459.64 212.23 L460.16 212.14 L460.68 212.05 L461.19 211.98 L461.71 211.9 L462.23 211.83 L462.75 211.77 L463.27 211.71 L463.79 211.65 L464.31 211.6 L464.83 211.55 L465.34 211.5 L465.86 211.46 L466.38 211.42 L466.9 211.38 L467.42 211.34 L467.94 211.31 L468.46 211.27 L468.98 211.24 L469.49 211.21 L470.01 211.19 L470.53 211.16 L471.05 211.14 L471.57 211.11 L472.09 211.09 L472.61 211.07 L473.12 211.05 L473.64 211.03 L474.16 211.01 L474.68 211 L475.2 210.98 L475.72 210.97 L476.24 210.95 L476.76 210.94 L477.28 210.92 L477.79 210.91 L478.31 210.9 L478.83 210.89 L479.35 210.88 L479.87 210.87 L480.39 210.86 L480.91 210.85 L481.43 210.84 L481.94 210.83 L482.46 210.82 L482.98 210.82 L483.5 210.81 L484.02 210.8 L484.54 210.79 L485.06 210.79 L485.58 210.78 L486.09 210.78 L486.61 210.77 L487.13 210.76 L487.65 210.76 L488.17 210.75 L488.69 210.75 L489.21 210.75 L489.73 210.74 L490.24 210.74 L490.76 210.73 L491.28 210.73 L491.8 210.73 L492.32 210.72 L492.84 210.72 L493.36 210.71 L493.88 210.71 L494.39 210.71 L494.91 210.71 L495.43 210.7 L495.95 210.7 L496.47 210.7 L496.99 210.69 L497.51 210.69 L498.03 210.69 L498.54 210.69 L499.06 210.69 L499.58 210.68 L500.1 210.68" fill="none" stroke="#8579c4" stroke-width="1.4" stroke-linejoin="round"/>
<circle cx="417.1" cy="297.3" r="2.35" fill="#8579c4"/>
<circle cx="425.4" cy="294.8" r="2.35" fill="#8579c4"/>
<circle cx="436.47" cy="251.5" r="2.35" fill="#8579c4"/>
<circle cx="458.6" cy="208.5" r="2.35" fill="#8579c4"/>
<circle cx="500.1" cy="213.8" r="2.35" fill="#8579c4"/>
<text x="6.9" y="340.5" font-size="11.5" text-anchor="start" font-weight="bold" fill="#000">G</text>
<text x="92.65" y="350.5" font-size="8.6" text-anchor="middle" font-weight="normal" fill="#231f20" textLength="79.1" lengthAdjust="spacingAndGlyphs">tPA and KV999272</text>
<path d="M39.9 354.4V462.9H147.5" fill="none" stroke="#111" stroke-width="1.4"/>
<line x1="36.7" y1="457.8" x2="39.9" y2="457.8" stroke="#111" stroke-width="1"/>
<text x="33.9" y="460.3" font-size="7.8" text-anchor="end" font-weight="normal" fill="#231f20">0</text>
<line x1="36.7" y1="433.55" x2="39.9" y2="433.55" stroke="#111" stroke-width="1"/>
<text x="33.9" y="436.05" font-size="7.8" text-anchor="end" font-weight="normal" fill="#231f20">25</text>
<line x1="36.7" y1="409.3" x2="39.9" y2="409.3" stroke="#111" stroke-width="1"/>
<text x="33.9" y="411.8" font-size="7.8" text-anchor="end" font-weight="normal" fill="#231f20">50</text>
<line x1="36.7" y1="385.05" x2="39.9" y2="385.05" stroke="#111" stroke-width="1"/>
<text x="33.9" y="387.55" font-size="7.8" text-anchor="end" font-weight="normal" fill="#231f20">75</text>
<line x1="36.7" y1="360.8" x2="39.9" y2="360.8" stroke="#111" stroke-width="1"/>
<text x="33.9" y="363.3" font-size="7.8" text-anchor="end" font-weight="normal" fill="#231f20">100</text>
<line x1="52.3" y1="462.9" x2="52.3" y2="466.1" stroke="#111" stroke-width="1"/>
<text x="52.3" y="475.1" font-size="7.8" text-anchor="middle" font-weight="normal" fill="#231f20">0</text>
<line x1="66.12" y1="462.9" x2="66.12" y2="466.1" stroke="#111" stroke-width="1"/>
<text x="66.12" y="475.1" font-size="7.8" text-anchor="middle" font-weight="normal" fill="#231f20">5</text>
<line x1="79.93" y1="462.9" x2="79.93" y2="466.1" stroke="#111" stroke-width="1"/>
<text x="79.93" y="475.1" font-size="7.8" text-anchor="middle" font-weight="normal" fill="#231f20">10</text>
<line x1="93.75" y1="462.9" x2="93.75" y2="466.1" stroke="#111" stroke-width="1"/>
<text x="93.75" y="475.1" font-size="7.8" text-anchor="middle" font-weight="normal" fill="#231f20">15</text>
<line x1="107.57" y1="462.9" x2="107.57" y2="466.1" stroke="#111" stroke-width="1"/>
<text x="107.57" y="475.1" font-size="7.8" text-anchor="middle" font-weight="normal" fill="#231f20">20</text>
<line x1="121.38" y1="462.9" x2="121.38" y2="466.1" stroke="#111" stroke-width="1"/>
<text x="121.38" y="475.1" font-size="7.8" text-anchor="middle" font-weight="normal" fill="#231f20">25</text>
<line x1="135.2" y1="462.9" x2="135.2" y2="466.1" stroke="#111" stroke-width="1"/>
<text x="135.2" y="475.1" font-size="7.8" text-anchor="middle" font-weight="normal" fill="#231f20">30</text>
<text transform="translate(15.6 409) rotate(-90)" x="0" y="0" font-size="9.3" text-anchor="middle" fill="#231f20" textLength="52.5" lengthAdjust="spacingAndGlyphs">Bradykinin (nM)</text>
<text x="94.3" y="487.6" font-size="9.2" text-anchor="middle" font-weight="normal" fill="#231f20" textLength="35.4" lengthAdjust="spacingAndGlyphs">Time (min)</text>
<circle cx="84.5" cy="414.1" r="2.5" fill="#d2163d"/>
<text x="90.8" y="416.5" font-size="7.2" fill="#231f20">Plg-Glu<tspan font-size="5" dx="0.5" dy="-2.9" style="stroke-width:0.08px">311</tspan></text>
<circle cx="84.5" cy="425.1" r="2.5" fill="#3a4a60"/>
<text x="90.8" y="427.5" font-size="7.2" fill="#231f20">Plg-Glu<tspan font-size="5" dx="0.5" dy="-2.9" style="stroke-width:0.08px">311</tspan><tspan dy="2.9"> + KV</tspan></text>
<circle cx="84.5" cy="435.6" r="2.5" fill="#4f1f7e"/>
<text x="90.8" y="438" font-size="7.2" fill="#231f20">No Plg</text>
<path d="M47.8 454.5H56.8M47.8 458.5H56.8M52.3 454.5V458.5" fill="none" stroke="#262626" stroke-width="1"/>
<path d="M56.09 452.5H65.09M56.09 458.5H65.09M60.59 452.5V458.5" fill="none" stroke="#262626" stroke-width="1"/>
<path d="M67.14 441.5H76.14M67.14 446.5H76.14M71.64 441.5V446.5" fill="none" stroke="#262626" stroke-width="1"/>
<path d="M67.14 454.5H76.14M67.14 454.5H76.14M71.64 454.5V454.5" fill="none" stroke="#262626" stroke-width="1"/>
<path d="M89.25 357.5H98.25M89.25 362.5H98.25M93.75 357.5V362.5" fill="none" stroke="#262626" stroke-width="1"/>
<path d="M130.7 370.5H139.7M130.7 372.5H139.7M135.2 370.5V372.5" fill="none" stroke="#262626" stroke-width="1"/>
<path d="M89.25 364.5H98.25M89.25 367.5H98.25M93.75 364.5V367.5" fill="none" stroke="#262626" stroke-width="1"/>
<path d="M130.7 450.5H139.7M130.7 456.5H139.7M135.2 450.5V456.5" fill="none" stroke="#262626" stroke-width="1"/>
<path d="M89.25 452.5H98.25M89.25 456.5H98.25M93.75 452.5V456.5" fill="none" stroke="#262626" stroke-width="1"/>
<path d="M71.64 454.4 L93.75 454.8 L135.2 453.3" fill="none" stroke="#4f1f7e" stroke-width="1.4" stroke-linejoin="round"/>
<path d="M52.3 455.83 L52.82 455.83 L53.34 455.83 L53.85 455.83 L54.37 455.83 L54.89 455.83 L55.41 455.83 L55.93 455.83 L56.44 455.82 L56.96 455.82 L57.48 455.82 L58 455.82 L58.52 455.81 L59.04 455.8 L59.55 455.79 L60.07 455.77 L60.59 455.74 L61.11 455.7 L61.63 455.65 L62.14 455.57 L62.66 455.48 L63.18 455.35 L63.7 455.2 L64.22 454.99 L64.73 454.74 L65.25 454.43 L65.77 454.05 L66.29 453.59 L66.81 453.04 L67.33 452.38 L67.84 451.6 L68.36 450.69 L68.88 449.63 L69.4 448.42 L69.92 447.05 L70.43 445.5 L70.95 443.77 L71.47 441.86 L71.99 439.77 L72.51 437.51 L73.02 435.08 L73.54 432.5 L74.06 429.79 L74.58 426.97 L75.1 424.07 L75.62 421.11 L76.13 418.12 L76.65 415.13 L77.17 412.16 L77.69 409.23 L78.21 406.38 L78.72 403.62 L79.24 400.96 L79.76 398.42 L80.28 396 L80.8 393.71 L81.31 391.56 L81.83 389.55 L82.35 387.66 L82.87 385.91 L83.39 384.29 L83.91 382.78 L84.42 381.39 L84.94 380.11 L85.46 378.93 L85.98 377.85 L86.5 376.86 L87.01 375.94 L87.53 375.1 L88.05 374.34 L88.57 373.63 L89.09 372.99 L89.6 372.4 L90.12 371.86 L90.64 371.36 L91.16 370.91 L91.68 370.49 L92.2 370.11 L92.71 369.75 L93.23 369.43 L93.75 369.14 L94.27 368.86 L94.79 368.61 L95.3 368.38 L95.82 368.17 L96.34 367.98 L96.86 367.8 L97.38 367.63 L97.89 367.48 L98.41 367.33 L98.93 367.2 L99.45 367.08 L99.97 366.97 L100.49 366.87 L101 366.77 L101.52 366.68 L102.04 366.6 L102.56 366.52 L103.08 366.45 L103.59 366.38 L104.11 366.32 L104.63 366.26 L105.15 366.21 L105.67 366.16 L106.18 366.11 L106.7 366.07 L107.22 366.03 L107.74 365.99 L108.26 365.95 L108.78 365.92 L109.29 365.89 L109.81 365.86 L110.33 365.83 L110.85 365.81 L111.37 365.78 L111.88 365.76 L112.4 365.74 L112.92 365.72 L113.44 365.7 L113.96 365.68 L114.47 365.67 L114.99 365.65 L115.51 365.64 L116.03 365.62 L116.55 365.61 L117.07 365.6 L117.58 365.58 L118.1 365.57 L118.62 365.56 L119.14 365.55 L119.66 365.54 L120.17 365.54 L120.69 365.53 L121.21 365.52 L121.73 365.51 L122.25 365.5 L122.76 365.5 L123.28 365.49 L123.8 365.49 L124.32 365.48 L124.84 365.47 L125.36 365.47 L125.87 365.46 L126.39 365.46 L126.91 365.46 L127.43 365.45 L127.95 365.45 L128.46 365.44 L128.98 365.44 L129.5 365.44 L130.02 365.43 L130.54 365.43 L131.05 365.43 L131.57 365.42 L132.09 365.42 L132.61 365.42 L133.13 365.42 L133.65 365.41 L134.16 365.41 L134.68 365.41 L135.2 365.41" fill="none" stroke="#d2163d" stroke-width="1.4" stroke-linejoin="round"/>
<path d="M52.3 455.83 L52.82 455.83 L53.34 455.83 L53.85 455.83 L54.37 455.83 L54.89 455.83 L55.41 455.83 L55.93 455.83 L56.44 455.82 L56.96 455.82 L57.48 455.82 L58 455.82 L58.52 455.81 L59.04 455.8 L59.55 455.78 L60.07 455.76 L60.59 455.73 L61.11 455.69 L61.63 455.63 L62.14 455.56 L62.66 455.46 L63.18 455.33 L63.7 455.18 L64.22 454.98 L64.73 454.74 L65.25 454.44 L65.77 454.08 L66.29 453.64 L66.81 453.13 L67.33 452.52 L67.84 451.8 L68.36 450.97 L68.88 450.01 L69.4 448.92 L69.92 447.68 L70.43 446.29 L70.95 444.74 L71.47 443.03 L71.99 441.15 L72.51 439.12 L73.02 436.92 L73.54 434.58 L74.06 432.11 L74.58 429.51 L75.1 426.81 L75.62 424.03 L76.13 421.2 L76.65 418.32 L77.17 415.43 L77.69 412.54 L78.21 409.69 L78.72 406.88 L79.24 404.14 L79.76 401.48 L80.28 398.91 L80.8 396.45 L81.31 394.09 L81.83 391.86 L82.35 389.74 L82.87 387.74 L83.39 385.86 L83.91 384.1 L84.42 382.46 L84.94 380.92 L85.46 379.49 L85.98 378.16 L86.5 376.93 L87.01 375.79 L87.53 374.73 L88.05 373.75 L88.57 372.85 L89.09 372.01 L89.6 371.24 L90.12 370.52 L90.64 369.87 L91.16 369.26 L91.68 368.7 L92.2 368.18 L92.71 367.7 L93.23 367.26 L93.75 366.85 L94.27 366.47 L94.79 366.12 L95.3 365.8 L95.82 365.5 L96.34 365.22 L96.86 364.97 L97.38 364.73 L97.89 364.51 L98.41 364.3 L98.93 364.11 L99.45 363.94 L99.97 363.77 L100.49 363.62 L101 363.48 L101.52 363.35 L102.04 363.22 L102.56 363.11 L103.08 363 L103.59 362.9 L104.11 362.81 L104.63 362.72 L105.15 362.64 L105.67 362.57 L106.18 362.49 L106.7 362.43 L107.22 362.36 L107.74 362.31 L108.26 362.25 L108.78 362.2 L109.29 362.15 L109.81 362.11 L110.33 362.06 L110.85 362.02 L111.37 361.99 L111.88 361.95 L112.4 361.92 L112.92 361.89 L113.44 361.86 L113.96 361.83 L114.47 361.8 L114.99 361.78 L115.51 361.75 L116.03 361.73 L116.55 361.71 L117.07 361.69 L117.58 361.67 L118.1 361.65 L118.62 361.64 L119.14 361.62 L119.66 361.6 L120.17 361.59 L120.69 361.58 L121.21 361.56 L121.73 361.55 L122.25 361.54 L122.76 361.53 L123.28 361.52 L123.8 361.51 L124.32 361.5 L124.84 361.49 L125.36 361.48 L125.87 361.47 L126.39 361.47 L126.91 361.46 L127.43 361.45 L127.95 361.44 L128.46 361.44 L128.98 361.43 L129.5 361.43 L130.02 361.42 L130.54 361.42 L131.05 361.41 L131.57 361.41 L132.09 361.4 L132.61 361.4 L133.13 361.39 L133.65 361.39 L134.16 361.38 L134.68 361.38 L135.2 361.38" fill="none" stroke="#3a4a60" stroke-width="1.4" stroke-linejoin="round"/>
<circle cx="52.3" cy="455" r="2.35" fill="#4f1f7e"/>
<circle cx="60.59" cy="454" r="2.35" fill="#4f1f7e"/>
<circle cx="71.64" cy="454.4" r="2.35" fill="#4f1f7e"/>
<circle cx="93.75" cy="454.8" r="2.35" fill="#4f1f7e"/>
<circle cx="135.2" cy="453.3" r="2.35" fill="#4f1f7e"/>
<circle cx="52.3" cy="456.9" r="2.35" fill="#d2163d"/>
<circle cx="60.59" cy="455" r="2.35" fill="#d2163d"/>
<circle cx="71.64" cy="440.8" r="2.35" fill="#d2163d"/>
<circle cx="93.75" cy="366.2" r="2.35" fill="#d2163d"/>
<circle cx="52.3" cy="455.9" r="2.35" fill="#3a4a60"/>
<circle cx="60.59" cy="456.9" r="2.35" fill="#3a4a60"/>
<circle cx="71.64" cy="450.2" r="2.35" fill="#3a4a60"/>
<circle cx="93.75" cy="359.6" r="2.35" fill="#3a4a60"/>
<circle cx="135.2" cy="371.4" r="2.35" fill="#3a4a60"/>
<text x="187.6" y="340.5" font-size="11.5" text-anchor="start" font-weight="bold" fill="#000">H</text>
<text x="271.5" y="339.4" font-size="8.6" text-anchor="middle" font-weight="normal" fill="#231f20" textLength="69.8" lengthAdjust="spacingAndGlyphs">Plg activation by</text>
<text x="271.3" y="349.3" font-size="8.6" text-anchor="middle" font-weight="normal" fill="#231f20" textLength="80" lengthAdjust="spacingAndGlyphs">tPA, FXIIa and PKa</text>
<path d="M217.3 354.4V462.9H325.3" fill="none" stroke="#111" stroke-width="1.4"/>
<line x1="214.1" y1="457.3" x2="217.3" y2="457.3" stroke="#111" stroke-width="1"/>
<text x="211.3" y="459.8" font-size="7.8" text-anchor="end" font-weight="normal" fill="#231f20">0</text>
<line x1="214.1" y1="433.12" x2="217.3" y2="433.12" stroke="#111" stroke-width="1"/>
<text x="211.3" y="435.62" font-size="7.8" text-anchor="end" font-weight="normal" fill="#231f20">20</text>
<line x1="214.1" y1="408.95" x2="217.3" y2="408.95" stroke="#111" stroke-width="1"/>
<text x="211.3" y="411.45" font-size="7.8" text-anchor="end" font-weight="normal" fill="#231f20">40</text>
<line x1="214.1" y1="384.78" x2="217.3" y2="384.78" stroke="#111" stroke-width="1"/>
<text x="211.3" y="387.28" font-size="7.8" text-anchor="end" font-weight="normal" fill="#231f20">60</text>
<line x1="214.1" y1="360.6" x2="217.3" y2="360.6" stroke="#111" stroke-width="1"/>
<text x="211.3" y="363.1" font-size="7.8" text-anchor="end" font-weight="normal" fill="#231f20">80</text>
<line x1="229.6" y1="462.9" x2="229.6" y2="466.1" stroke="#111" stroke-width="1"/>
<text x="229.6" y="475.1" font-size="7.8" text-anchor="middle" font-weight="normal" fill="#231f20">0</text>
<line x1="256.73" y1="462.9" x2="256.73" y2="466.1" stroke="#111" stroke-width="1"/>
<text x="256.73" y="475.1" font-size="7.8" text-anchor="middle" font-weight="normal" fill="#231f20">20</text>
<line x1="283.87" y1="462.9" x2="283.87" y2="466.1" stroke="#111" stroke-width="1"/>
<text x="283.87" y="475.1" font-size="7.8" text-anchor="middle" font-weight="normal" fill="#231f20">40</text>
<line x1="311" y1="462.9" x2="311" y2="466.1" stroke="#111" stroke-width="1"/>
<text x="311" y="475.1" font-size="7.8" text-anchor="middle" font-weight="normal" fill="#231f20">60</text>
<text transform="translate(198 408.1) rotate(-90)" x="0" y="0" font-size="9.3" text-anchor="middle" fill="#231f20" textLength="43.6" lengthAdjust="spacingAndGlyphs">Plasmin (nM)</text>
<text x="271.75" y="487.6" font-size="9.2" text-anchor="middle" font-weight="normal" fill="#231f20" textLength="34.6" lengthAdjust="spacingAndGlyphs">Time (min)</text>
<circle cx="224.1" cy="361.9" r="2.5" fill="#d2163d"/>
<text x="230.4" y="364.3" font-size="7.2" fill="#231f20">Plg-Glu<tspan font-size="5" dx="0.5" dy="-2.9" style="stroke-width:0.08px">311</tspan></text>
<circle cx="224.1" cy="373.1" r="2.5" fill="#10508e"/>
<text x="230.4" y="375.5" font-size="7.2" fill="#231f20">Plg-Lys<tspan font-size="5" dx="0.5" dy="-2.9" style="stroke-width:0.08px">311</tspan></text>
<circle cx="224.1" cy="384.4" r="2.5" fill="#4f1f7e"/>
<text x="230.4" y="386.8" font-size="7.2" fill="#231f20">No Plg</text>
<path d="M229.6 455.1 L236.38 455.1 L249.95 453.6 L270.3 454.8 L311 456.2" fill="none" stroke="#4f1f7e" stroke-width="1.4" stroke-linejoin="round"/>
<path d="M229.6 457 L236.38 457.7 L249.95 457.1 L270.3 451.9 L311 450.9" fill="none" stroke="#3fb84a" stroke-width="1.4" stroke-linejoin="round"/>
<rect x="225.4" y="453.2" width="8.4" height="4.6" fill="#111"/>
<rect x="232.18" y="453.2" width="8.4" height="4.6" fill="#111"/>
<rect x="245.75" y="453.2" width="8.4" height="4.6" fill="#111"/>
<rect x="266.1" y="453.2" width="8.4" height="4.6" fill="#111"/>
<circle cx="229.6" cy="457" r="2.35" fill="#3fb84a"/>
<circle cx="236.38" cy="457.7" r="2.35" fill="#3fb84a"/>
<circle cx="249.95" cy="457.1" r="2.35" fill="#3fb84a"/>
<circle cx="270.3" cy="451.9" r="2.35" fill="#3fb84a"/>
<circle cx="311" cy="450.9" r="2.35" fill="#3fb84a"/>
<circle cx="229.6" cy="455.1" r="2.35" fill="#4f1f7e"/>
<circle cx="236.38" cy="454.6" r="2.35" fill="#4f1f7e"/>
<circle cx="249.95" cy="453.6" r="2.35" fill="#4f1f7e"/>
<circle cx="270.3" cy="454.8" r="2.35" fill="#4f1f7e"/>
<circle cx="311" cy="456.2" r="2.35" fill="#4f1f7e"/>
<path d="M306.5 453.5H315.5M306.5 457.5H315.5M311 453.5V457.5" fill="none" stroke="#262626" stroke-width="1.2"/>
<path d="M231.88 447.5H240.88M231.88 450.5H240.88M236.38 447.5V450.5" fill="none" stroke="#262626" stroke-width="1"/>
<path d="M245.45 418.5H254.45M245.45 430.5H254.45M249.95 418.5V430.5" fill="none" stroke="#262626" stroke-width="1"/>
<path d="M265.8 393.5H274.8M265.8 407.5H274.8M270.3 393.5V407.5" fill="none" stroke="#262626" stroke-width="1"/>
<path d="M306.5 362.5H315.5M306.5 374.5H315.5M311 362.5V374.5" fill="none" stroke="#262626" stroke-width="1"/>
<path d="M231.88 442.5H240.88M231.88 445.5H240.88M236.38 442.5V445.5" fill="none" stroke="#262626" stroke-width="1"/>
<path d="M245.45 404.5H254.45M245.45 413.5H254.45M249.95 404.5V413.5" fill="none" stroke="#262626" stroke-width="1"/>
<path d="M265.8 378.5H274.8M265.8 391.5H274.8M270.3 378.5V391.5" fill="none" stroke="#262626" stroke-width="1"/>
<path d="M306.5 361.5H315.5M306.5 374.5H315.5M311 361.5V374.5" fill="none" stroke="#262626" stroke-width="1"/>
<path d="M236.38 442.87 L237.01 441.1 L237.63 439.35 L238.25 437.61 L238.87 435.89 L239.49 434.2 L240.11 432.54 L240.74 430.9 L241.36 429.29 L241.98 427.72 L242.6 426.18 L243.22 424.67 L243.84 423.2 L244.47 421.76 L245.09 420.36 L245.71 418.99 L246.33 417.65 L246.95 416.34 L247.58 415.07 L248.2 413.83 L248.82 412.63 L249.44 411.45 L250.06 410.3 L250.68 409.18 L251.31 408.1 L251.93 407.04 L252.55 406 L253.17 405 L253.79 404.02 L254.42 403.06 L255.04 402.13 L255.66 401.23 L256.28 400.35 L256.9 399.49 L257.52 398.65 L258.15 397.83 L258.77 397.03 L259.39 396.26 L260.01 395.5 L260.63 394.76 L261.26 394.04 L261.88 393.34 L262.5 392.66 L263.12 391.99 L263.74 391.34 L264.36 390.7 L264.99 390.08 L265.61 389.48 L266.23 388.88 L266.85 388.31 L267.47 387.74 L268.1 387.19 L268.72 386.65 L269.34 386.13 L269.96 385.61 L270.58 385.11 L271.2 384.62 L271.83 384.14 L272.45 383.67 L273.07 383.21 L273.69 382.76 L274.31 382.32 L274.94 381.89 L275.56 381.47 L276.18 381.06 L276.8 380.65 L277.42 380.26 L278.04 379.87 L278.67 379.5 L279.29 379.12 L279.91 378.76 L280.53 378.41 L281.15 378.06 L281.78 377.72 L282.4 377.38 L283.02 377.05 L283.64 376.73 L284.26 376.41 L284.88 376.1 L285.51 375.8 L286.13 375.5 L286.75 375.21 L287.37 374.92 L287.99 374.64 L288.62 374.37 L289.24 374.1 L289.86 373.83 L290.48 373.57 L291.1 373.31 L291.72 373.06 L292.35 372.81 L292.97 372.57 L293.59 372.33 L294.21 372.1 L294.83 371.87 L295.45 371.64 L296.08 371.42 L296.7 371.2 L297.32 370.99 L297.94 370.77 L298.56 370.57 L299.19 370.36 L299.81 370.16 L300.43 369.96 L301.05 369.77 L301.67 369.58 L302.29 369.39 L302.92 369.2 L303.54 369.02 L304.16 368.84 L304.78 368.67 L305.4 368.49 L306.03 368.32 L306.65 368.15 L307.27 367.99 L307.89 367.82 L308.51 367.66 L309.13 367.5 L309.76 367.35 L310.38 367.2 L311 367.04" fill="none" stroke="#10508e" stroke-width="1.4" stroke-linejoin="round"/>
<path d="M236.38 448.76 L237.01 447.77 L237.63 446.78 L238.25 445.77 L238.87 444.76 L239.49 443.75 L240.11 442.74 L240.74 441.73 L241.36 440.71 L241.98 439.7 L242.6 438.69 L243.22 437.69 L243.84 436.68 L244.47 435.69 L245.09 434.69 L245.71 433.71 L246.33 432.72 L246.95 431.75 L247.58 430.78 L248.2 429.81 L248.82 428.86 L249.44 427.91 L250.06 426.96 L250.68 426.03 L251.31 425.1 L251.93 424.18 L252.55 423.27 L253.17 422.37 L253.79 421.47 L254.42 420.59 L255.04 419.71 L255.66 418.84 L256.28 417.97 L256.9 417.12 L257.52 416.27 L258.15 415.44 L258.77 414.61 L259.39 413.79 L260.01 412.98 L260.63 412.17 L261.26 411.38 L261.88 410.59 L262.5 409.81 L263.12 409.04 L263.74 408.28 L264.36 407.52 L264.99 406.77 L265.61 406.03 L266.23 405.3 L266.85 404.58 L267.47 403.86 L268.1 403.16 L268.72 402.46 L269.34 401.76 L269.96 401.08 L270.58 400.4 L271.2 399.73 L271.83 399.07 L272.45 398.41 L273.07 397.76 L273.69 397.12 L274.31 396.49 L274.94 395.86 L275.56 395.24 L276.18 394.62 L276.8 394.02 L277.42 393.41 L278.04 392.82 L278.67 392.23 L279.29 391.65 L279.91 391.07 L280.53 390.51 L281.15 389.94 L281.78 389.38 L282.4 388.83 L283.02 388.29 L283.64 387.75 L284.26 387.22 L284.88 386.69 L285.51 386.16 L286.13 385.65 L286.75 385.14 L287.37 384.63 L287.99 384.13 L288.62 383.64 L289.24 383.15 L289.86 382.66 L290.48 382.18 L291.1 381.71 L291.72 381.24 L292.35 380.77 L292.97 380.31 L293.59 379.86 L294.21 379.41 L294.83 378.96 L295.45 378.52 L296.08 378.08 L296.7 377.65 L297.32 377.22 L297.94 376.8 L298.56 376.38 L299.19 375.96 L299.81 375.55 L300.43 375.14 L301.05 374.74 L301.67 374.34 L302.29 373.95 L302.92 373.56 L303.54 373.17 L304.16 372.79 L304.78 372.41 L305.4 372.03 L306.03 371.66 L306.65 371.29 L307.27 370.93 L307.89 370.57 L308.51 370.21 L309.13 369.86 L309.76 369.51 L310.38 369.16 L311 368.81" fill="none" stroke="#d2163d" stroke-width="1.4" stroke-linejoin="round"/>
<circle cx="236.38" cy="449.3" r="2.35" fill="#d2163d"/>
<circle cx="249.95" cy="424.2" r="2.35" fill="#d2163d"/>
<circle cx="270.3" cy="400.5" r="2.35" fill="#d2163d"/>
<circle cx="311" cy="368" r="2.35" fill="#d2163d"/>
<circle cx="236.38" cy="443.7" r="2.35" fill="#10508e"/>
<circle cx="249.95" cy="408.6" r="2.35" fill="#10508e"/>
<circle cx="270.3" cy="384.7" r="2.35" fill="#10508e"/>
<circle cx="311" cy="367.3" r="2.35" fill="#10508e"/>
<text x="370.4" y="340.5" font-size="11.5" text-anchor="start" font-weight="bold" fill="#000">I</text>
<text x="458.65" y="338.8" font-size="8.6" text-anchor="middle" font-weight="normal" fill="#231f20" textLength="44.3" lengthAdjust="spacingAndGlyphs">Bradykinin</text>
<text x="457.9" y="349.9" font-size="8.6" text-anchor="middle" font-weight="normal" fill="#231f20" textLength="51.2" lengthAdjust="spacingAndGlyphs">tPA + Fibrin</text>
<path d="M404.1 354.4V462.9H512.3" fill="none" stroke="#111" stroke-width="1.4"/>
<line x1="400.9" y1="457.8" x2="404.1" y2="457.8" stroke="#111" stroke-width="1"/>
<text x="398.1" y="460.3" font-size="7.8" text-anchor="end" font-weight="normal" fill="#231f20">0</text>
<line x1="400.9" y1="433.55" x2="404.1" y2="433.55" stroke="#111" stroke-width="1"/>
<text x="398.1" y="436.05" font-size="7.8" text-anchor="end" font-weight="normal" fill="#231f20">35</text>
<line x1="400.9" y1="409.3" x2="404.1" y2="409.3" stroke="#111" stroke-width="1"/>
<text x="398.1" y="411.8" font-size="7.8" text-anchor="end" font-weight="normal" fill="#231f20">70</text>
<line x1="400.9" y1="385.05" x2="404.1" y2="385.05" stroke="#111" stroke-width="1"/>
<text x="398.1" y="387.55" font-size="7.8" text-anchor="end" font-weight="normal" fill="#231f20">105</text>
<line x1="400.9" y1="360.8" x2="404.1" y2="360.8" stroke="#111" stroke-width="1"/>
<text x="398.1" y="363.3" font-size="7.8" text-anchor="end" font-weight="normal" fill="#231f20">140</text>
<line x1="416.6" y1="462.9" x2="416.6" y2="466.1" stroke="#111" stroke-width="1"/>
<text x="416.6" y="475.1" font-size="7.8" text-anchor="middle" font-weight="normal" fill="#231f20">0</text>
<line x1="430.17" y1="462.9" x2="430.17" y2="466.1" stroke="#111" stroke-width="1"/>
<text x="430.17" y="475.1" font-size="7.8" text-anchor="middle" font-weight="normal" fill="#231f20">5</text>
<line x1="443.73" y1="462.9" x2="443.73" y2="466.1" stroke="#111" stroke-width="1"/>
<text x="443.73" y="475.1" font-size="7.8" text-anchor="middle" font-weight="normal" fill="#231f20">10</text>
<line x1="457.3" y1="462.9" x2="457.3" y2="466.1" stroke="#111" stroke-width="1"/>
<text x="457.3" y="475.1" font-size="7.8" text-anchor="middle" font-weight="normal" fill="#231f20">15</text>
<line x1="470.87" y1="462.9" x2="470.87" y2="466.1" stroke="#111" stroke-width="1"/>
<text x="470.87" y="475.1" font-size="7.8" text-anchor="middle" font-weight="normal" fill="#231f20">20</text>
<line x1="484.43" y1="462.9" x2="484.43" y2="466.1" stroke="#111" stroke-width="1"/>
<text x="484.43" y="475.1" font-size="7.8" text-anchor="middle" font-weight="normal" fill="#231f20">25</text>
<line x1="498" y1="462.9" x2="498" y2="466.1" stroke="#111" stroke-width="1"/>
<text x="498" y="475.1" font-size="7.8" text-anchor="middle" font-weight="normal" fill="#231f20">30</text>
<text transform="translate(378.25 408) rotate(-90)" x="0" y="0" font-size="9.3" text-anchor="middle" fill="#231f20" textLength="51.9" lengthAdjust="spacingAndGlyphs">Bradykinin (nM)</text>
<text x="458.3" y="489" font-size="9.2" text-anchor="middle" font-weight="normal" fill="#231f20" textLength="35.4" lengthAdjust="spacingAndGlyphs">Time (min)</text>
<circle cx="409.75" cy="363.75" r="2.5" fill="#d2163d"/>
<text x="416.05" y="366.15" font-size="7.2" fill="#231f20">Plm-Glu<tspan font-size="5" dx="0.5" dy="-2.9" style="stroke-width:0.08px">311</tspan></text>
<circle cx="409.75" cy="375.6" r="2.5" fill="#10508e"/>
<text x="416.05" y="378" font-size="7.2" fill="#231f20">Plm-Lys<tspan font-size="5" dx="0.5" dy="-2.9" style="stroke-width:0.08px">311</tspan></text>
<circle cx="409.75" cy="387.25" r="2.5" fill="#4f1f7e"/>
<text x="416.05" y="389.65" font-size="7.2" fill="#231f20">No Plm</text>
<path d="M412.1 457.5H421.1M412.1 457.5H421.1M416.6 457.5V457.5" fill="none" stroke="#262626" stroke-width="1"/>
<path d="M420.24 451.5H429.24M420.24 456.5H429.24M424.74 451.5V456.5" fill="none" stroke="#262626" stroke-width="1"/>
<path d="M431.09 455.5H440.09M431.09 457.5H440.09M435.59 455.5V457.5" fill="none" stroke="#262626" stroke-width="1"/>
<path d="M452.8 437.5H461.8M452.8 447.5H461.8M457.3 437.5V447.5" fill="none" stroke="#262626" stroke-width="1"/>
<path d="M452.8 443.5H461.8M452.8 445.5H461.8M457.3 443.5V445.5" fill="none" stroke="#262626" stroke-width="1"/>
<path d="M493.5 368.5H502.5M493.5 372.5H502.5M498 368.5V372.5" fill="none" stroke="#262626" stroke-width="1"/>
<path d="M493.5 378.5H502.5M493.5 382.5H502.5M498 378.5V382.5" fill="none" stroke="#262626" stroke-width="1"/>
<path d="M493.5 393.5H502.5M493.5 398.5H502.5M498 393.5V398.5" fill="none" stroke="#262626" stroke-width="1"/>
<path d="M435.59 455.72 L436.11 455.6 L436.63 455.46 L437.15 455.32 L437.67 455.16 L438.19 455 L438.71 454.83 L439.23 454.64 L439.75 454.44 L440.27 454.23 L440.79 454.01 L441.31 453.78 L441.83 453.53 L442.35 453.27 L442.87 453 L443.39 452.71 L443.91 452.41 L444.43 452.09 L444.95 451.76 L445.47 451.41 L445.99 451.05 L446.51 450.67 L447.03 450.28 L447.55 449.87 L448.07 449.45 L448.59 449 L449.11 448.54 L449.63 448.07 L450.15 447.58 L450.67 447.07 L451.19 446.54 L451.72 446 L452.24 445.44 L452.76 444.86 L453.28 444.27 L453.8 443.65 L454.32 443.03 L454.84 442.38 L455.36 441.72 L455.88 441.04 L456.4 440.34 L456.92 439.63 L457.44 438.91 L457.96 438.16 L458.48 437.4 L459 436.63 L459.52 435.84 L460.04 435.04 L460.56 434.22 L461.08 433.39 L461.6 432.55 L462.12 431.7 L462.64 430.83 L463.16 429.95 L463.68 429.06 L464.2 428.15 L464.72 427.24 L465.24 426.32 L465.76 425.39 L466.28 424.45 L466.8 423.5 L467.32 422.54 L467.84 421.58 L468.36 420.61 L468.88 419.63 L469.4 418.65 L469.92 417.67 L470.44 416.68 L470.96 415.69 L471.48 414.69 L472 413.69 L472.52 412.69 L473.04 411.69 L473.56 410.69 L474.08 409.69 L474.6 408.69 L475.12 407.69 L475.64 406.69 L476.16 405.69 L476.68 404.7 L477.2 403.71 L477.72 402.72 L478.24 401.74 L478.76 400.76 L479.28 399.78 L479.8 398.81 L480.32 397.85 L480.84 396.89 L481.36 395.94 L481.88 394.99 L482.4 394.05 L482.92 393.12 L483.44 392.19 L483.96 391.28 L484.48 390.37 L485 389.47 L485.52 388.58 L486.04 387.69 L486.56 386.82 L487.08 385.95 L487.6 385.1 L488.12 384.25 L488.64 383.41 L489.16 382.59 L489.68 381.77 L490.2 380.96 L490.72 380.16 L491.24 379.37 L491.76 378.6 L492.28 377.83 L492.8 377.07 L493.32 376.32 L493.84 375.58 L494.36 374.86 L494.88 374.14 L495.4 373.43 L495.92 372.73 L496.44 372.05 L496.96 371.37 L497.48 370.7 L498 370.05" fill="none" stroke="#d2163d" stroke-width="1.4" stroke-linejoin="round"/>
<path d="M435.59 456.29 L436.11 456.2 L436.63 456.1 L437.15 455.99 L437.67 455.88 L438.19 455.76 L438.71 455.63 L439.23 455.48 L439.75 455.33 L440.27 455.17 L440.79 455 L441.31 454.81 L441.83 454.62 L442.35 454.41 L442.87 454.19 L443.39 453.95 L443.91 453.71 L444.43 453.45 L444.95 453.17 L445.47 452.88 L445.99 452.58 L446.51 452.26 L447.03 451.92 L447.55 451.57 L448.07 451.2 L448.59 450.82 L449.11 450.42 L449.63 450 L450.15 449.56 L450.67 449.11 L451.19 448.64 L451.72 448.15 L452.24 447.65 L452.76 447.12 L453.28 446.58 L453.8 446.03 L454.32 445.45 L454.84 444.86 L455.36 444.24 L455.88 443.62 L456.4 442.97 L456.92 442.31 L457.44 441.63 L457.96 440.93 L458.48 440.22 L459 439.49 L459.52 438.75 L460.04 437.99 L460.56 437.21 L461.08 436.43 L461.6 435.62 L462.12 434.81 L462.64 433.98 L463.16 433.14 L463.68 432.29 L464.2 431.43 L464.72 430.56 L465.24 429.68 L465.76 428.79 L466.28 427.9 L466.8 426.99 L467.32 426.08 L467.84 425.16 L468.36 424.24 L468.88 423.31 L469.4 422.38 L469.92 421.45 L470.44 420.51 L470.96 419.57 L471.48 418.63 L472 417.69 L472.52 416.75 L473.04 415.81 L473.56 414.88 L474.08 413.94 L474.6 413.01 L475.12 412.08 L475.64 411.16 L476.16 410.24 L476.68 409.32 L477.2 408.41 L477.72 407.51 L478.24 406.61 L478.76 405.72 L479.28 404.84 L479.8 403.96 L480.32 403.1 L480.84 402.24 L481.36 401.39 L481.88 400.55 L482.4 399.72 L482.92 398.9 L483.44 398.08 L483.96 397.28 L484.48 396.49 L485 395.71 L485.52 394.94 L486.04 394.18 L486.56 393.43 L487.08 392.69 L487.6 391.97 L488.12 391.25 L488.64 390.55 L489.16 389.85 L489.68 389.17 L490.2 388.5 L490.72 387.84 L491.24 387.19 L491.76 386.55 L492.28 385.93 L492.8 385.31 L493.32 384.71 L493.84 384.11 L494.36 383.53 L494.88 382.96 L495.4 382.39 L495.92 381.84 L496.44 381.3 L496.96 380.77 L497.48 380.25 L498 379.74" fill="none" stroke="#10508e" stroke-width="1.4" stroke-linejoin="round"/>
<path d="M435.59 456.22 L436.11 456.14 L436.63 456.05 L437.15 455.96 L437.67 455.86 L438.19 455.75 L438.71 455.63 L439.23 455.5 L439.75 455.36 L440.27 455.21 L440.79 455.05 L441.31 454.88 L441.83 454.69 L442.35 454.5 L442.87 454.29 L443.39 454.07 L443.91 453.84 L444.43 453.59 L444.95 453.33 L445.47 453.06 L445.99 452.77 L446.51 452.46 L447.03 452.15 L447.55 451.81 L448.07 451.46 L448.59 451.09 L449.11 450.71 L449.63 450.31 L450.15 449.9 L450.67 449.47 L451.19 449.02 L451.72 448.55 L452.24 448.07 L452.76 447.57 L453.28 447.06 L453.8 446.53 L454.32 445.98 L454.84 445.42 L455.36 444.84 L455.88 444.25 L456.4 443.64 L456.92 443.02 L457.44 442.38 L457.96 441.73 L458.48 441.07 L459 440.4 L459.52 439.71 L460.04 439.01 L460.56 438.3 L461.08 437.58 L461.6 436.86 L462.12 436.12 L462.64 435.38 L463.16 434.62 L463.68 433.87 L464.2 433.1 L464.72 432.33 L465.24 431.56 L465.76 430.79 L466.28 430.01 L466.8 429.23 L467.32 428.45 L467.84 427.66 L468.36 426.88 L468.88 426.1 L469.4 425.32 L469.92 424.55 L470.44 423.77 L470.96 423 L471.48 422.24 L472 421.48 L472.52 420.72 L473.04 419.97 L473.56 419.23 L474.08 418.49 L474.6 417.76 L475.12 417.04 L475.64 416.33 L476.16 415.62 L476.68 414.93 L477.2 414.24 L477.72 413.56 L478.24 412.89 L478.76 412.24 L479.28 411.59 L479.8 410.95 L480.32 410.32 L480.84 409.7 L481.36 409.09 L481.88 408.5 L482.4 407.91 L482.92 407.33 L483.44 406.77 L483.96 406.22 L484.48 405.67 L485 405.14 L485.52 404.62 L486.04 404.1 L486.56 403.6 L487.08 403.11 L487.6 402.63 L488.12 402.16 L488.64 401.7 L489.16 401.25 L489.68 400.8 L490.2 400.37 L490.72 399.95 L491.24 399.54 L491.76 399.14 L492.28 398.74 L492.8 398.36 L493.32 397.98 L493.84 397.61 L494.36 397.26 L494.88 396.91 L495.4 396.56 L495.92 396.23 L496.44 395.9 L496.96 395.58 L497.48 395.27 L498 394.97" fill="none" stroke="#4f1f7e" stroke-width="1.4" stroke-linejoin="round"/>
<circle cx="416.6" cy="457.6" r="2.35" fill="#4f1f7e"/>
<circle cx="424.74" cy="457.4" r="2.35" fill="#4f1f7e"/>
<circle cx="435.59" cy="457.2" r="2.35" fill="#4f1f7e"/>
<circle cx="457.3" cy="444.4" r="2.35" fill="#4f1f7e"/>
<circle cx="498" cy="396.1" r="2.35" fill="#4f1f7e"/>
<circle cx="424.74" cy="457.4" r="2.35" fill="#10508e"/>
<circle cx="435.59" cy="457.4" r="2.35" fill="#10508e"/>
<circle cx="457.3" cy="444.4" r="2.35" fill="#10508e"/>
<circle cx="498" cy="380.4" r="2.35" fill="#10508e"/>
<circle cx="416.6" cy="457.6" r="2.35" fill="#d2163d"/>
<circle cx="424.74" cy="453.8" r="2.35" fill="#d2163d"/>
<circle cx="435.59" cy="457" r="2.35" fill="#d2163d"/>
<circle cx="457.3" cy="441.3" r="2.35" fill="#d2163d"/>
<circle cx="498" cy="371.2" r="2.35" fill="#d2163d"/>
<rect x="0" y="0" width="1.3" height="496" fill="#000"/><rect x="518.5" y="0" width="1.5" height="496" fill="#000"/><rect x="0" y="0" width="520" height="1.2" fill="#000"/><rect x="0" y="494.85" width="520" height="1.15" fill="#000"/>
</svg>
</body></html>
